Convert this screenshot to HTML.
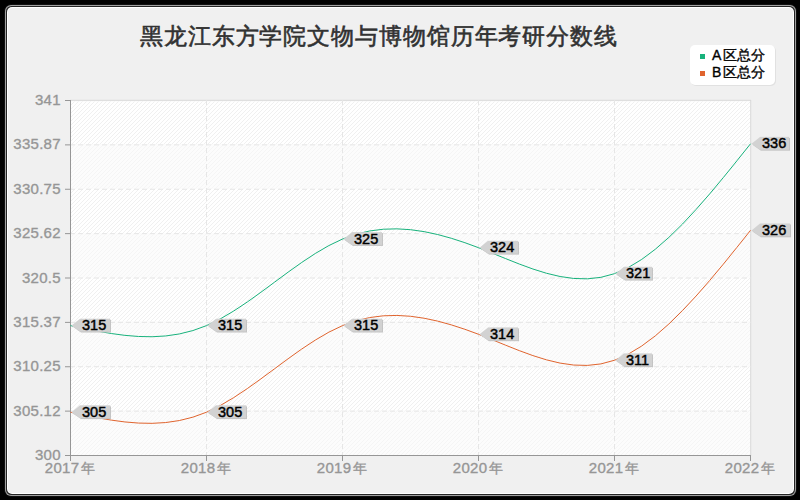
<!DOCTYPE html>
<html><head><meta charset="utf-8"><style>
html,body{margin:0;padding:0;background:#000;width:800px;height:500px;overflow:hidden;position:relative}
text{font-family:"Liberation Sans",sans-serif}
.sc{font-size:15px;fill:#969696;stroke:#969696;stroke-width:0.35px}
.lb{font-size:14.5px;fill:#000;stroke:#000;stroke-width:0.45px}
.xl{letter-spacing:0.3px}
.yl{letter-spacing:0.25px}
.lg{font-size:14px;fill:#000;stroke:#000;stroke-width:0.35px}
.tt{font-size:23px;fill:#323232;stroke:#323232;stroke-width:0.6px;letter-spacing:0.9px}
</style></head><body>
<svg width="800" height="500" viewBox="0 0 800 500" style="position:absolute;left:0;top:0">
<defs><pattern id="st" patternUnits="userSpaceOnUse" x="0" y="0" width="4" height="4"><rect x="3" y="0" width="1" height="1" fill="#f0f0f0"/><rect x="2" y="1" width="1" height="1" fill="#f0f0f0"/><rect x="1" y="2" width="1" height="1" fill="#f0f0f0"/><rect x="0" y="3" width="1" height="1" fill="#f0f0f0"/></pattern></defs>
<rect x="4.5" y="4.5" width="792" height="492" rx="7" fill="none" stroke="#0f0f0f" stroke-width="1"/>
<rect x="5" y="5" width="791" height="491" rx="6" fill="#a0a0a0"/>
<rect x="6" y="6" width="789" height="489" rx="5.5" fill="#232323"/>
<rect x="7" y="7" width="787" height="487" rx="5" fill="#ffffff"/>
<rect x="8" y="8" width="785" height="485" rx="4" fill="#f0f0f0"/>
<g shape-rendering="crispEdges"><rect x="70" y="100" width="681" height="356" fill="#fff"/><rect x="70" y="101" width="680" height="355" fill="url(#st)"/><rect x="71" y="410" width="679" height="45" fill="#fafafa" fill-opacity="0.5"/><rect x="71" y="321" width="679" height="46" fill="#fafafa" fill-opacity="0.5"/><rect x="71" y="233" width="679" height="45" fill="#fafafa" fill-opacity="0.5"/><rect x="71" y="144" width="679" height="45" fill="#fafafa" fill-opacity="0.5"/><rect x="71" y="100" width="679" height="2" fill="#fafafa" fill-opacity="0.5"/><rect x="70" y="99" width="681" height="1" fill="#d7d7d7" fill-opacity="0.2"/><rect x="70" y="100" width="681" height="1" fill="#d7d7d7" fill-opacity="0.8"/><rect x="750" y="100" width="1" height="356" fill="#d7d7d7" fill-opacity="0.8"/><rect x="751" y="100" width="1" height="356" fill="#d7d7d7" fill-opacity="0.2"/><rect x="70" y="410" width="5" height="1" fill="#e6e6e6" fill-opacity="0.375"/><rect x="70" y="411" width="5" height="1" fill="#e6e6e6" fill-opacity="0.625"/><rect x="78" y="410" width="5" height="1" fill="#e6e6e6" fill-opacity="0.375"/><rect x="78" y="411" width="5" height="1" fill="#e6e6e6" fill-opacity="0.625"/><rect x="86" y="410" width="5" height="1" fill="#e6e6e6" fill-opacity="0.375"/><rect x="86" y="411" width="5" height="1" fill="#e6e6e6" fill-opacity="0.625"/><rect x="94" y="410" width="5" height="1" fill="#e6e6e6" fill-opacity="0.375"/><rect x="94" y="411" width="5" height="1" fill="#e6e6e6" fill-opacity="0.625"/><rect x="102" y="410" width="5" height="1" fill="#e6e6e6" fill-opacity="0.375"/><rect x="102" y="411" width="5" height="1" fill="#e6e6e6" fill-opacity="0.625"/><rect x="110" y="410" width="5" height="1" fill="#e6e6e6" fill-opacity="0.375"/><rect x="110" y="411" width="5" height="1" fill="#e6e6e6" fill-opacity="0.625"/><rect x="118" y="410" width="5" height="1" fill="#e6e6e6" fill-opacity="0.375"/><rect x="118" y="411" width="5" height="1" fill="#e6e6e6" fill-opacity="0.625"/><rect x="126" y="410" width="5" height="1" fill="#e6e6e6" fill-opacity="0.375"/><rect x="126" y="411" width="5" height="1" fill="#e6e6e6" fill-opacity="0.625"/><rect x="134" y="410" width="5" height="1" fill="#e6e6e6" fill-opacity="0.375"/><rect x="134" y="411" width="5" height="1" fill="#e6e6e6" fill-opacity="0.625"/><rect x="142" y="410" width="5" height="1" fill="#e6e6e6" fill-opacity="0.375"/><rect x="142" y="411" width="5" height="1" fill="#e6e6e6" fill-opacity="0.625"/><rect x="150" y="410" width="5" height="1" fill="#e6e6e6" fill-opacity="0.375"/><rect x="150" y="411" width="5" height="1" fill="#e6e6e6" fill-opacity="0.625"/><rect x="158" y="410" width="5" height="1" fill="#e6e6e6" fill-opacity="0.375"/><rect x="158" y="411" width="5" height="1" fill="#e6e6e6" fill-opacity="0.625"/><rect x="166" y="410" width="5" height="1" fill="#e6e6e6" fill-opacity="0.375"/><rect x="166" y="411" width="5" height="1" fill="#e6e6e6" fill-opacity="0.625"/><rect x="174" y="410" width="5" height="1" fill="#e6e6e6" fill-opacity="0.375"/><rect x="174" y="411" width="5" height="1" fill="#e6e6e6" fill-opacity="0.625"/><rect x="182" y="410" width="5" height="1" fill="#e6e6e6" fill-opacity="0.375"/><rect x="182" y="411" width="5" height="1" fill="#e6e6e6" fill-opacity="0.625"/><rect x="190" y="410" width="5" height="1" fill="#e6e6e6" fill-opacity="0.375"/><rect x="190" y="411" width="5" height="1" fill="#e6e6e6" fill-opacity="0.625"/><rect x="198" y="410" width="5" height="1" fill="#e6e6e6" fill-opacity="0.375"/><rect x="198" y="411" width="5" height="1" fill="#e6e6e6" fill-opacity="0.625"/><rect x="206" y="410" width="5" height="1" fill="#e6e6e6" fill-opacity="0.375"/><rect x="206" y="411" width="5" height="1" fill="#e6e6e6" fill-opacity="0.625"/><rect x="214" y="410" width="5" height="1" fill="#e6e6e6" fill-opacity="0.375"/><rect x="214" y="411" width="5" height="1" fill="#e6e6e6" fill-opacity="0.625"/><rect x="222" y="410" width="5" height="1" fill="#e6e6e6" fill-opacity="0.375"/><rect x="222" y="411" width="5" height="1" fill="#e6e6e6" fill-opacity="0.625"/><rect x="230" y="410" width="5" height="1" fill="#e6e6e6" fill-opacity="0.375"/><rect x="230" y="411" width="5" height="1" fill="#e6e6e6" fill-opacity="0.625"/><rect x="238" y="410" width="5" height="1" fill="#e6e6e6" fill-opacity="0.375"/><rect x="238" y="411" width="5" height="1" fill="#e6e6e6" fill-opacity="0.625"/><rect x="246" y="410" width="5" height="1" fill="#e6e6e6" fill-opacity="0.375"/><rect x="246" y="411" width="5" height="1" fill="#e6e6e6" fill-opacity="0.625"/><rect x="254" y="410" width="5" height="1" fill="#e6e6e6" fill-opacity="0.375"/><rect x="254" y="411" width="5" height="1" fill="#e6e6e6" fill-opacity="0.625"/><rect x="262" y="410" width="5" height="1" fill="#e6e6e6" fill-opacity="0.375"/><rect x="262" y="411" width="5" height="1" fill="#e6e6e6" fill-opacity="0.625"/><rect x="270" y="410" width="5" height="1" fill="#e6e6e6" fill-opacity="0.375"/><rect x="270" y="411" width="5" height="1" fill="#e6e6e6" fill-opacity="0.625"/><rect x="278" y="410" width="5" height="1" fill="#e6e6e6" fill-opacity="0.375"/><rect x="278" y="411" width="5" height="1" fill="#e6e6e6" fill-opacity="0.625"/><rect x="286" y="410" width="5" height="1" fill="#e6e6e6" fill-opacity="0.375"/><rect x="286" y="411" width="5" height="1" fill="#e6e6e6" fill-opacity="0.625"/><rect x="294" y="410" width="5" height="1" fill="#e6e6e6" fill-opacity="0.375"/><rect x="294" y="411" width="5" height="1" fill="#e6e6e6" fill-opacity="0.625"/><rect x="302" y="410" width="5" height="1" fill="#e6e6e6" fill-opacity="0.375"/><rect x="302" y="411" width="5" height="1" fill="#e6e6e6" fill-opacity="0.625"/><rect x="310" y="410" width="5" height="1" fill="#e6e6e6" fill-opacity="0.375"/><rect x="310" y="411" width="5" height="1" fill="#e6e6e6" fill-opacity="0.625"/><rect x="318" y="410" width="5" height="1" fill="#e6e6e6" fill-opacity="0.375"/><rect x="318" y="411" width="5" height="1" fill="#e6e6e6" fill-opacity="0.625"/><rect x="326" y="410" width="5" height="1" fill="#e6e6e6" fill-opacity="0.375"/><rect x="326" y="411" width="5" height="1" fill="#e6e6e6" fill-opacity="0.625"/><rect x="334" y="410" width="5" height="1" fill="#e6e6e6" fill-opacity="0.375"/><rect x="334" y="411" width="5" height="1" fill="#e6e6e6" fill-opacity="0.625"/><rect x="342" y="410" width="5" height="1" fill="#e6e6e6" fill-opacity="0.375"/><rect x="342" y="411" width="5" height="1" fill="#e6e6e6" fill-opacity="0.625"/><rect x="350" y="410" width="5" height="1" fill="#e6e6e6" fill-opacity="0.375"/><rect x="350" y="411" width="5" height="1" fill="#e6e6e6" fill-opacity="0.625"/><rect x="358" y="410" width="5" height="1" fill="#e6e6e6" fill-opacity="0.375"/><rect x="358" y="411" width="5" height="1" fill="#e6e6e6" fill-opacity="0.625"/><rect x="366" y="410" width="5" height="1" fill="#e6e6e6" fill-opacity="0.375"/><rect x="366" y="411" width="5" height="1" fill="#e6e6e6" fill-opacity="0.625"/><rect x="374" y="410" width="5" height="1" fill="#e6e6e6" fill-opacity="0.375"/><rect x="374" y="411" width="5" height="1" fill="#e6e6e6" fill-opacity="0.625"/><rect x="382" y="410" width="5" height="1" fill="#e6e6e6" fill-opacity="0.375"/><rect x="382" y="411" width="5" height="1" fill="#e6e6e6" fill-opacity="0.625"/><rect x="390" y="410" width="5" height="1" fill="#e6e6e6" fill-opacity="0.375"/><rect x="390" y="411" width="5" height="1" fill="#e6e6e6" fill-opacity="0.625"/><rect x="398" y="410" width="5" height="1" fill="#e6e6e6" fill-opacity="0.375"/><rect x="398" y="411" width="5" height="1" fill="#e6e6e6" fill-opacity="0.625"/><rect x="406" y="410" width="5" height="1" fill="#e6e6e6" fill-opacity="0.375"/><rect x="406" y="411" width="5" height="1" fill="#e6e6e6" fill-opacity="0.625"/><rect x="414" y="410" width="5" height="1" fill="#e6e6e6" fill-opacity="0.375"/><rect x="414" y="411" width="5" height="1" fill="#e6e6e6" fill-opacity="0.625"/><rect x="422" y="410" width="5" height="1" fill="#e6e6e6" fill-opacity="0.375"/><rect x="422" y="411" width="5" height="1" fill="#e6e6e6" fill-opacity="0.625"/><rect x="430" y="410" width="5" height="1" fill="#e6e6e6" fill-opacity="0.375"/><rect x="430" y="411" width="5" height="1" fill="#e6e6e6" fill-opacity="0.625"/><rect x="438" y="410" width="5" height="1" fill="#e6e6e6" fill-opacity="0.375"/><rect x="438" y="411" width="5" height="1" fill="#e6e6e6" fill-opacity="0.625"/><rect x="446" y="410" width="5" height="1" fill="#e6e6e6" fill-opacity="0.375"/><rect x="446" y="411" width="5" height="1" fill="#e6e6e6" fill-opacity="0.625"/><rect x="454" y="410" width="5" height="1" fill="#e6e6e6" fill-opacity="0.375"/><rect x="454" y="411" width="5" height="1" fill="#e6e6e6" fill-opacity="0.625"/><rect x="462" y="410" width="5" height="1" fill="#e6e6e6" fill-opacity="0.375"/><rect x="462" y="411" width="5" height="1" fill="#e6e6e6" fill-opacity="0.625"/><rect x="470" y="410" width="5" height="1" fill="#e6e6e6" fill-opacity="0.375"/><rect x="470" y="411" width="5" height="1" fill="#e6e6e6" fill-opacity="0.625"/><rect x="478" y="410" width="5" height="1" fill="#e6e6e6" fill-opacity="0.375"/><rect x="478" y="411" width="5" height="1" fill="#e6e6e6" fill-opacity="0.625"/><rect x="486" y="410" width="5" height="1" fill="#e6e6e6" fill-opacity="0.375"/><rect x="486" y="411" width="5" height="1" fill="#e6e6e6" fill-opacity="0.625"/><rect x="494" y="410" width="5" height="1" fill="#e6e6e6" fill-opacity="0.375"/><rect x="494" y="411" width="5" height="1" fill="#e6e6e6" fill-opacity="0.625"/><rect x="502" y="410" width="5" height="1" fill="#e6e6e6" fill-opacity="0.375"/><rect x="502" y="411" width="5" height="1" fill="#e6e6e6" fill-opacity="0.625"/><rect x="510" y="410" width="5" height="1" fill="#e6e6e6" fill-opacity="0.375"/><rect x="510" y="411" width="5" height="1" fill="#e6e6e6" fill-opacity="0.625"/><rect x="518" y="410" width="5" height="1" fill="#e6e6e6" fill-opacity="0.375"/><rect x="518" y="411" width="5" height="1" fill="#e6e6e6" fill-opacity="0.625"/><rect x="526" y="410" width="5" height="1" fill="#e6e6e6" fill-opacity="0.375"/><rect x="526" y="411" width="5" height="1" fill="#e6e6e6" fill-opacity="0.625"/><rect x="534" y="410" width="5" height="1" fill="#e6e6e6" fill-opacity="0.375"/><rect x="534" y="411" width="5" height="1" fill="#e6e6e6" fill-opacity="0.625"/><rect x="542" y="410" width="5" height="1" fill="#e6e6e6" fill-opacity="0.375"/><rect x="542" y="411" width="5" height="1" fill="#e6e6e6" fill-opacity="0.625"/><rect x="550" y="410" width="5" height="1" fill="#e6e6e6" fill-opacity="0.375"/><rect x="550" y="411" width="5" height="1" fill="#e6e6e6" fill-opacity="0.625"/><rect x="558" y="410" width="5" height="1" fill="#e6e6e6" fill-opacity="0.375"/><rect x="558" y="411" width="5" height="1" fill="#e6e6e6" fill-opacity="0.625"/><rect x="566" y="410" width="5" height="1" fill="#e6e6e6" fill-opacity="0.375"/><rect x="566" y="411" width="5" height="1" fill="#e6e6e6" fill-opacity="0.625"/><rect x="574" y="410" width="5" height="1" fill="#e6e6e6" fill-opacity="0.375"/><rect x="574" y="411" width="5" height="1" fill="#e6e6e6" fill-opacity="0.625"/><rect x="582" y="410" width="5" height="1" fill="#e6e6e6" fill-opacity="0.375"/><rect x="582" y="411" width="5" height="1" fill="#e6e6e6" fill-opacity="0.625"/><rect x="590" y="410" width="5" height="1" fill="#e6e6e6" fill-opacity="0.375"/><rect x="590" y="411" width="5" height="1" fill="#e6e6e6" fill-opacity="0.625"/><rect x="598" y="410" width="5" height="1" fill="#e6e6e6" fill-opacity="0.375"/><rect x="598" y="411" width="5" height="1" fill="#e6e6e6" fill-opacity="0.625"/><rect x="606" y="410" width="5" height="1" fill="#e6e6e6" fill-opacity="0.375"/><rect x="606" y="411" width="5" height="1" fill="#e6e6e6" fill-opacity="0.625"/><rect x="614" y="410" width="5" height="1" fill="#e6e6e6" fill-opacity="0.375"/><rect x="614" y="411" width="5" height="1" fill="#e6e6e6" fill-opacity="0.625"/><rect x="622" y="410" width="5" height="1" fill="#e6e6e6" fill-opacity="0.375"/><rect x="622" y="411" width="5" height="1" fill="#e6e6e6" fill-opacity="0.625"/><rect x="630" y="410" width="5" height="1" fill="#e6e6e6" fill-opacity="0.375"/><rect x="630" y="411" width="5" height="1" fill="#e6e6e6" fill-opacity="0.625"/><rect x="638" y="410" width="5" height="1" fill="#e6e6e6" fill-opacity="0.375"/><rect x="638" y="411" width="5" height="1" fill="#e6e6e6" fill-opacity="0.625"/><rect x="646" y="410" width="5" height="1" fill="#e6e6e6" fill-opacity="0.375"/><rect x="646" y="411" width="5" height="1" fill="#e6e6e6" fill-opacity="0.625"/><rect x="654" y="410" width="5" height="1" fill="#e6e6e6" fill-opacity="0.375"/><rect x="654" y="411" width="5" height="1" fill="#e6e6e6" fill-opacity="0.625"/><rect x="662" y="410" width="5" height="1" fill="#e6e6e6" fill-opacity="0.375"/><rect x="662" y="411" width="5" height="1" fill="#e6e6e6" fill-opacity="0.625"/><rect x="670" y="410" width="5" height="1" fill="#e6e6e6" fill-opacity="0.375"/><rect x="670" y="411" width="5" height="1" fill="#e6e6e6" fill-opacity="0.625"/><rect x="678" y="410" width="5" height="1" fill="#e6e6e6" fill-opacity="0.375"/><rect x="678" y="411" width="5" height="1" fill="#e6e6e6" fill-opacity="0.625"/><rect x="686" y="410" width="5" height="1" fill="#e6e6e6" fill-opacity="0.375"/><rect x="686" y="411" width="5" height="1" fill="#e6e6e6" fill-opacity="0.625"/><rect x="694" y="410" width="5" height="1" fill="#e6e6e6" fill-opacity="0.375"/><rect x="694" y="411" width="5" height="1" fill="#e6e6e6" fill-opacity="0.625"/><rect x="702" y="410" width="5" height="1" fill="#e6e6e6" fill-opacity="0.375"/><rect x="702" y="411" width="5" height="1" fill="#e6e6e6" fill-opacity="0.625"/><rect x="710" y="410" width="5" height="1" fill="#e6e6e6" fill-opacity="0.375"/><rect x="710" y="411" width="5" height="1" fill="#e6e6e6" fill-opacity="0.625"/><rect x="718" y="410" width="5" height="1" fill="#e6e6e6" fill-opacity="0.375"/><rect x="718" y="411" width="5" height="1" fill="#e6e6e6" fill-opacity="0.625"/><rect x="726" y="410" width="5" height="1" fill="#e6e6e6" fill-opacity="0.375"/><rect x="726" y="411" width="5" height="1" fill="#e6e6e6" fill-opacity="0.625"/><rect x="734" y="410" width="5" height="1" fill="#e6e6e6" fill-opacity="0.375"/><rect x="734" y="411" width="5" height="1" fill="#e6e6e6" fill-opacity="0.625"/><rect x="742" y="410" width="5" height="1" fill="#e6e6e6" fill-opacity="0.375"/><rect x="742" y="411" width="5" height="1" fill="#e6e6e6" fill-opacity="0.625"/><rect x="750" y="410" width="1" height="1" fill="#e6e6e6" fill-opacity="0.375"/><rect x="750" y="411" width="1" height="1" fill="#e6e6e6" fill-opacity="0.625"/><rect x="70" y="366" width="5" height="1" fill="#e6e6e6" fill-opacity="0.750"/><rect x="70" y="367" width="5" height="1" fill="#e6e6e6" fill-opacity="0.250"/><rect x="78" y="366" width="5" height="1" fill="#e6e6e6" fill-opacity="0.750"/><rect x="78" y="367" width="5" height="1" fill="#e6e6e6" fill-opacity="0.250"/><rect x="86" y="366" width="5" height="1" fill="#e6e6e6" fill-opacity="0.750"/><rect x="86" y="367" width="5" height="1" fill="#e6e6e6" fill-opacity="0.250"/><rect x="94" y="366" width="5" height="1" fill="#e6e6e6" fill-opacity="0.750"/><rect x="94" y="367" width="5" height="1" fill="#e6e6e6" fill-opacity="0.250"/><rect x="102" y="366" width="5" height="1" fill="#e6e6e6" fill-opacity="0.750"/><rect x="102" y="367" width="5" height="1" fill="#e6e6e6" fill-opacity="0.250"/><rect x="110" y="366" width="5" height="1" fill="#e6e6e6" fill-opacity="0.750"/><rect x="110" y="367" width="5" height="1" fill="#e6e6e6" fill-opacity="0.250"/><rect x="118" y="366" width="5" height="1" fill="#e6e6e6" fill-opacity="0.750"/><rect x="118" y="367" width="5" height="1" fill="#e6e6e6" fill-opacity="0.250"/><rect x="126" y="366" width="5" height="1" fill="#e6e6e6" fill-opacity="0.750"/><rect x="126" y="367" width="5" height="1" fill="#e6e6e6" fill-opacity="0.250"/><rect x="134" y="366" width="5" height="1" fill="#e6e6e6" fill-opacity="0.750"/><rect x="134" y="367" width="5" height="1" fill="#e6e6e6" fill-opacity="0.250"/><rect x="142" y="366" width="5" height="1" fill="#e6e6e6" fill-opacity="0.750"/><rect x="142" y="367" width="5" height="1" fill="#e6e6e6" fill-opacity="0.250"/><rect x="150" y="366" width="5" height="1" fill="#e6e6e6" fill-opacity="0.750"/><rect x="150" y="367" width="5" height="1" fill="#e6e6e6" fill-opacity="0.250"/><rect x="158" y="366" width="5" height="1" fill="#e6e6e6" fill-opacity="0.750"/><rect x="158" y="367" width="5" height="1" fill="#e6e6e6" fill-opacity="0.250"/><rect x="166" y="366" width="5" height="1" fill="#e6e6e6" fill-opacity="0.750"/><rect x="166" y="367" width="5" height="1" fill="#e6e6e6" fill-opacity="0.250"/><rect x="174" y="366" width="5" height="1" fill="#e6e6e6" fill-opacity="0.750"/><rect x="174" y="367" width="5" height="1" fill="#e6e6e6" fill-opacity="0.250"/><rect x="182" y="366" width="5" height="1" fill="#e6e6e6" fill-opacity="0.750"/><rect x="182" y="367" width="5" height="1" fill="#e6e6e6" fill-opacity="0.250"/><rect x="190" y="366" width="5" height="1" fill="#e6e6e6" fill-opacity="0.750"/><rect x="190" y="367" width="5" height="1" fill="#e6e6e6" fill-opacity="0.250"/><rect x="198" y="366" width="5" height="1" fill="#e6e6e6" fill-opacity="0.750"/><rect x="198" y="367" width="5" height="1" fill="#e6e6e6" fill-opacity="0.250"/><rect x="206" y="366" width="5" height="1" fill="#e6e6e6" fill-opacity="0.750"/><rect x="206" y="367" width="5" height="1" fill="#e6e6e6" fill-opacity="0.250"/><rect x="214" y="366" width="5" height="1" fill="#e6e6e6" fill-opacity="0.750"/><rect x="214" y="367" width="5" height="1" fill="#e6e6e6" fill-opacity="0.250"/><rect x="222" y="366" width="5" height="1" fill="#e6e6e6" fill-opacity="0.750"/><rect x="222" y="367" width="5" height="1" fill="#e6e6e6" fill-opacity="0.250"/><rect x="230" y="366" width="5" height="1" fill="#e6e6e6" fill-opacity="0.750"/><rect x="230" y="367" width="5" height="1" fill="#e6e6e6" fill-opacity="0.250"/><rect x="238" y="366" width="5" height="1" fill="#e6e6e6" fill-opacity="0.750"/><rect x="238" y="367" width="5" height="1" fill="#e6e6e6" fill-opacity="0.250"/><rect x="246" y="366" width="5" height="1" fill="#e6e6e6" fill-opacity="0.750"/><rect x="246" y="367" width="5" height="1" fill="#e6e6e6" fill-opacity="0.250"/><rect x="254" y="366" width="5" height="1" fill="#e6e6e6" fill-opacity="0.750"/><rect x="254" y="367" width="5" height="1" fill="#e6e6e6" fill-opacity="0.250"/><rect x="262" y="366" width="5" height="1" fill="#e6e6e6" fill-opacity="0.750"/><rect x="262" y="367" width="5" height="1" fill="#e6e6e6" fill-opacity="0.250"/><rect x="270" y="366" width="5" height="1" fill="#e6e6e6" fill-opacity="0.750"/><rect x="270" y="367" width="5" height="1" fill="#e6e6e6" fill-opacity="0.250"/><rect x="278" y="366" width="5" height="1" fill="#e6e6e6" fill-opacity="0.750"/><rect x="278" y="367" width="5" height="1" fill="#e6e6e6" fill-opacity="0.250"/><rect x="286" y="366" width="5" height="1" fill="#e6e6e6" fill-opacity="0.750"/><rect x="286" y="367" width="5" height="1" fill="#e6e6e6" fill-opacity="0.250"/><rect x="294" y="366" width="5" height="1" fill="#e6e6e6" fill-opacity="0.750"/><rect x="294" y="367" width="5" height="1" fill="#e6e6e6" fill-opacity="0.250"/><rect x="302" y="366" width="5" height="1" fill="#e6e6e6" fill-opacity="0.750"/><rect x="302" y="367" width="5" height="1" fill="#e6e6e6" fill-opacity="0.250"/><rect x="310" y="366" width="5" height="1" fill="#e6e6e6" fill-opacity="0.750"/><rect x="310" y="367" width="5" height="1" fill="#e6e6e6" fill-opacity="0.250"/><rect x="318" y="366" width="5" height="1" fill="#e6e6e6" fill-opacity="0.750"/><rect x="318" y="367" width="5" height="1" fill="#e6e6e6" fill-opacity="0.250"/><rect x="326" y="366" width="5" height="1" fill="#e6e6e6" fill-opacity="0.750"/><rect x="326" y="367" width="5" height="1" fill="#e6e6e6" fill-opacity="0.250"/><rect x="334" y="366" width="5" height="1" fill="#e6e6e6" fill-opacity="0.750"/><rect x="334" y="367" width="5" height="1" fill="#e6e6e6" fill-opacity="0.250"/><rect x="342" y="366" width="5" height="1" fill="#e6e6e6" fill-opacity="0.750"/><rect x="342" y="367" width="5" height="1" fill="#e6e6e6" fill-opacity="0.250"/><rect x="350" y="366" width="5" height="1" fill="#e6e6e6" fill-opacity="0.750"/><rect x="350" y="367" width="5" height="1" fill="#e6e6e6" fill-opacity="0.250"/><rect x="358" y="366" width="5" height="1" fill="#e6e6e6" fill-opacity="0.750"/><rect x="358" y="367" width="5" height="1" fill="#e6e6e6" fill-opacity="0.250"/><rect x="366" y="366" width="5" height="1" fill="#e6e6e6" fill-opacity="0.750"/><rect x="366" y="367" width="5" height="1" fill="#e6e6e6" fill-opacity="0.250"/><rect x="374" y="366" width="5" height="1" fill="#e6e6e6" fill-opacity="0.750"/><rect x="374" y="367" width="5" height="1" fill="#e6e6e6" fill-opacity="0.250"/><rect x="382" y="366" width="5" height="1" fill="#e6e6e6" fill-opacity="0.750"/><rect x="382" y="367" width="5" height="1" fill="#e6e6e6" fill-opacity="0.250"/><rect x="390" y="366" width="5" height="1" fill="#e6e6e6" fill-opacity="0.750"/><rect x="390" y="367" width="5" height="1" fill="#e6e6e6" fill-opacity="0.250"/><rect x="398" y="366" width="5" height="1" fill="#e6e6e6" fill-opacity="0.750"/><rect x="398" y="367" width="5" height="1" fill="#e6e6e6" fill-opacity="0.250"/><rect x="406" y="366" width="5" height="1" fill="#e6e6e6" fill-opacity="0.750"/><rect x="406" y="367" width="5" height="1" fill="#e6e6e6" fill-opacity="0.250"/><rect x="414" y="366" width="5" height="1" fill="#e6e6e6" fill-opacity="0.750"/><rect x="414" y="367" width="5" height="1" fill="#e6e6e6" fill-opacity="0.250"/><rect x="422" y="366" width="5" height="1" fill="#e6e6e6" fill-opacity="0.750"/><rect x="422" y="367" width="5" height="1" fill="#e6e6e6" fill-opacity="0.250"/><rect x="430" y="366" width="5" height="1" fill="#e6e6e6" fill-opacity="0.750"/><rect x="430" y="367" width="5" height="1" fill="#e6e6e6" fill-opacity="0.250"/><rect x="438" y="366" width="5" height="1" fill="#e6e6e6" fill-opacity="0.750"/><rect x="438" y="367" width="5" height="1" fill="#e6e6e6" fill-opacity="0.250"/><rect x="446" y="366" width="5" height="1" fill="#e6e6e6" fill-opacity="0.750"/><rect x="446" y="367" width="5" height="1" fill="#e6e6e6" fill-opacity="0.250"/><rect x="454" y="366" width="5" height="1" fill="#e6e6e6" fill-opacity="0.750"/><rect x="454" y="367" width="5" height="1" fill="#e6e6e6" fill-opacity="0.250"/><rect x="462" y="366" width="5" height="1" fill="#e6e6e6" fill-opacity="0.750"/><rect x="462" y="367" width="5" height="1" fill="#e6e6e6" fill-opacity="0.250"/><rect x="470" y="366" width="5" height="1" fill="#e6e6e6" fill-opacity="0.750"/><rect x="470" y="367" width="5" height="1" fill="#e6e6e6" fill-opacity="0.250"/><rect x="478" y="366" width="5" height="1" fill="#e6e6e6" fill-opacity="0.750"/><rect x="478" y="367" width="5" height="1" fill="#e6e6e6" fill-opacity="0.250"/><rect x="486" y="366" width="5" height="1" fill="#e6e6e6" fill-opacity="0.750"/><rect x="486" y="367" width="5" height="1" fill="#e6e6e6" fill-opacity="0.250"/><rect x="494" y="366" width="5" height="1" fill="#e6e6e6" fill-opacity="0.750"/><rect x="494" y="367" width="5" height="1" fill="#e6e6e6" fill-opacity="0.250"/><rect x="502" y="366" width="5" height="1" fill="#e6e6e6" fill-opacity="0.750"/><rect x="502" y="367" width="5" height="1" fill="#e6e6e6" fill-opacity="0.250"/><rect x="510" y="366" width="5" height="1" fill="#e6e6e6" fill-opacity="0.750"/><rect x="510" y="367" width="5" height="1" fill="#e6e6e6" fill-opacity="0.250"/><rect x="518" y="366" width="5" height="1" fill="#e6e6e6" fill-opacity="0.750"/><rect x="518" y="367" width="5" height="1" fill="#e6e6e6" fill-opacity="0.250"/><rect x="526" y="366" width="5" height="1" fill="#e6e6e6" fill-opacity="0.750"/><rect x="526" y="367" width="5" height="1" fill="#e6e6e6" fill-opacity="0.250"/><rect x="534" y="366" width="5" height="1" fill="#e6e6e6" fill-opacity="0.750"/><rect x="534" y="367" width="5" height="1" fill="#e6e6e6" fill-opacity="0.250"/><rect x="542" y="366" width="5" height="1" fill="#e6e6e6" fill-opacity="0.750"/><rect x="542" y="367" width="5" height="1" fill="#e6e6e6" fill-opacity="0.250"/><rect x="550" y="366" width="5" height="1" fill="#e6e6e6" fill-opacity="0.750"/><rect x="550" y="367" width="5" height="1" fill="#e6e6e6" fill-opacity="0.250"/><rect x="558" y="366" width="5" height="1" fill="#e6e6e6" fill-opacity="0.750"/><rect x="558" y="367" width="5" height="1" fill="#e6e6e6" fill-opacity="0.250"/><rect x="566" y="366" width="5" height="1" fill="#e6e6e6" fill-opacity="0.750"/><rect x="566" y="367" width="5" height="1" fill="#e6e6e6" fill-opacity="0.250"/><rect x="574" y="366" width="5" height="1" fill="#e6e6e6" fill-opacity="0.750"/><rect x="574" y="367" width="5" height="1" fill="#e6e6e6" fill-opacity="0.250"/><rect x="582" y="366" width="5" height="1" fill="#e6e6e6" fill-opacity="0.750"/><rect x="582" y="367" width="5" height="1" fill="#e6e6e6" fill-opacity="0.250"/><rect x="590" y="366" width="5" height="1" fill="#e6e6e6" fill-opacity="0.750"/><rect x="590" y="367" width="5" height="1" fill="#e6e6e6" fill-opacity="0.250"/><rect x="598" y="366" width="5" height="1" fill="#e6e6e6" fill-opacity="0.750"/><rect x="598" y="367" width="5" height="1" fill="#e6e6e6" fill-opacity="0.250"/><rect x="606" y="366" width="5" height="1" fill="#e6e6e6" fill-opacity="0.750"/><rect x="606" y="367" width="5" height="1" fill="#e6e6e6" fill-opacity="0.250"/><rect x="614" y="366" width="5" height="1" fill="#e6e6e6" fill-opacity="0.750"/><rect x="614" y="367" width="5" height="1" fill="#e6e6e6" fill-opacity="0.250"/><rect x="622" y="366" width="5" height="1" fill="#e6e6e6" fill-opacity="0.750"/><rect x="622" y="367" width="5" height="1" fill="#e6e6e6" fill-opacity="0.250"/><rect x="630" y="366" width="5" height="1" fill="#e6e6e6" fill-opacity="0.750"/><rect x="630" y="367" width="5" height="1" fill="#e6e6e6" fill-opacity="0.250"/><rect x="638" y="366" width="5" height="1" fill="#e6e6e6" fill-opacity="0.750"/><rect x="638" y="367" width="5" height="1" fill="#e6e6e6" fill-opacity="0.250"/><rect x="646" y="366" width="5" height="1" fill="#e6e6e6" fill-opacity="0.750"/><rect x="646" y="367" width="5" height="1" fill="#e6e6e6" fill-opacity="0.250"/><rect x="654" y="366" width="5" height="1" fill="#e6e6e6" fill-opacity="0.750"/><rect x="654" y="367" width="5" height="1" fill="#e6e6e6" fill-opacity="0.250"/><rect x="662" y="366" width="5" height="1" fill="#e6e6e6" fill-opacity="0.750"/><rect x="662" y="367" width="5" height="1" fill="#e6e6e6" fill-opacity="0.250"/><rect x="670" y="366" width="5" height="1" fill="#e6e6e6" fill-opacity="0.750"/><rect x="670" y="367" width="5" height="1" fill="#e6e6e6" fill-opacity="0.250"/><rect x="678" y="366" width="5" height="1" fill="#e6e6e6" fill-opacity="0.750"/><rect x="678" y="367" width="5" height="1" fill="#e6e6e6" fill-opacity="0.250"/><rect x="686" y="366" width="5" height="1" fill="#e6e6e6" fill-opacity="0.750"/><rect x="686" y="367" width="5" height="1" fill="#e6e6e6" fill-opacity="0.250"/><rect x="694" y="366" width="5" height="1" fill="#e6e6e6" fill-opacity="0.750"/><rect x="694" y="367" width="5" height="1" fill="#e6e6e6" fill-opacity="0.250"/><rect x="702" y="366" width="5" height="1" fill="#e6e6e6" fill-opacity="0.750"/><rect x="702" y="367" width="5" height="1" fill="#e6e6e6" fill-opacity="0.250"/><rect x="710" y="366" width="5" height="1" fill="#e6e6e6" fill-opacity="0.750"/><rect x="710" y="367" width="5" height="1" fill="#e6e6e6" fill-opacity="0.250"/><rect x="718" y="366" width="5" height="1" fill="#e6e6e6" fill-opacity="0.750"/><rect x="718" y="367" width="5" height="1" fill="#e6e6e6" fill-opacity="0.250"/><rect x="726" y="366" width="5" height="1" fill="#e6e6e6" fill-opacity="0.750"/><rect x="726" y="367" width="5" height="1" fill="#e6e6e6" fill-opacity="0.250"/><rect x="734" y="366" width="5" height="1" fill="#e6e6e6" fill-opacity="0.750"/><rect x="734" y="367" width="5" height="1" fill="#e6e6e6" fill-opacity="0.250"/><rect x="742" y="366" width="5" height="1" fill="#e6e6e6" fill-opacity="0.750"/><rect x="742" y="367" width="5" height="1" fill="#e6e6e6" fill-opacity="0.250"/><rect x="750" y="366" width="1" height="1" fill="#e6e6e6" fill-opacity="0.750"/><rect x="750" y="367" width="1" height="1" fill="#e6e6e6" fill-opacity="0.250"/><rect x="70" y="321" width="5" height="1" fill="#e6e6e6" fill-opacity="0.125"/><rect x="70" y="322" width="5" height="1" fill="#e6e6e6" fill-opacity="0.875"/><rect x="78" y="321" width="5" height="1" fill="#e6e6e6" fill-opacity="0.125"/><rect x="78" y="322" width="5" height="1" fill="#e6e6e6" fill-opacity="0.875"/><rect x="86" y="321" width="5" height="1" fill="#e6e6e6" fill-opacity="0.125"/><rect x="86" y="322" width="5" height="1" fill="#e6e6e6" fill-opacity="0.875"/><rect x="94" y="321" width="5" height="1" fill="#e6e6e6" fill-opacity="0.125"/><rect x="94" y="322" width="5" height="1" fill="#e6e6e6" fill-opacity="0.875"/><rect x="102" y="321" width="5" height="1" fill="#e6e6e6" fill-opacity="0.125"/><rect x="102" y="322" width="5" height="1" fill="#e6e6e6" fill-opacity="0.875"/><rect x="110" y="321" width="5" height="1" fill="#e6e6e6" fill-opacity="0.125"/><rect x="110" y="322" width="5" height="1" fill="#e6e6e6" fill-opacity="0.875"/><rect x="118" y="321" width="5" height="1" fill="#e6e6e6" fill-opacity="0.125"/><rect x="118" y="322" width="5" height="1" fill="#e6e6e6" fill-opacity="0.875"/><rect x="126" y="321" width="5" height="1" fill="#e6e6e6" fill-opacity="0.125"/><rect x="126" y="322" width="5" height="1" fill="#e6e6e6" fill-opacity="0.875"/><rect x="134" y="321" width="5" height="1" fill="#e6e6e6" fill-opacity="0.125"/><rect x="134" y="322" width="5" height="1" fill="#e6e6e6" fill-opacity="0.875"/><rect x="142" y="321" width="5" height="1" fill="#e6e6e6" fill-opacity="0.125"/><rect x="142" y="322" width="5" height="1" fill="#e6e6e6" fill-opacity="0.875"/><rect x="150" y="321" width="5" height="1" fill="#e6e6e6" fill-opacity="0.125"/><rect x="150" y="322" width="5" height="1" fill="#e6e6e6" fill-opacity="0.875"/><rect x="158" y="321" width="5" height="1" fill="#e6e6e6" fill-opacity="0.125"/><rect x="158" y="322" width="5" height="1" fill="#e6e6e6" fill-opacity="0.875"/><rect x="166" y="321" width="5" height="1" fill="#e6e6e6" fill-opacity="0.125"/><rect x="166" y="322" width="5" height="1" fill="#e6e6e6" fill-opacity="0.875"/><rect x="174" y="321" width="5" height="1" fill="#e6e6e6" fill-opacity="0.125"/><rect x="174" y="322" width="5" height="1" fill="#e6e6e6" fill-opacity="0.875"/><rect x="182" y="321" width="5" height="1" fill="#e6e6e6" fill-opacity="0.125"/><rect x="182" y="322" width="5" height="1" fill="#e6e6e6" fill-opacity="0.875"/><rect x="190" y="321" width="5" height="1" fill="#e6e6e6" fill-opacity="0.125"/><rect x="190" y="322" width="5" height="1" fill="#e6e6e6" fill-opacity="0.875"/><rect x="198" y="321" width="5" height="1" fill="#e6e6e6" fill-opacity="0.125"/><rect x="198" y="322" width="5" height="1" fill="#e6e6e6" fill-opacity="0.875"/><rect x="206" y="321" width="5" height="1" fill="#e6e6e6" fill-opacity="0.125"/><rect x="206" y="322" width="5" height="1" fill="#e6e6e6" fill-opacity="0.875"/><rect x="214" y="321" width="5" height="1" fill="#e6e6e6" fill-opacity="0.125"/><rect x="214" y="322" width="5" height="1" fill="#e6e6e6" fill-opacity="0.875"/><rect x="222" y="321" width="5" height="1" fill="#e6e6e6" fill-opacity="0.125"/><rect x="222" y="322" width="5" height="1" fill="#e6e6e6" fill-opacity="0.875"/><rect x="230" y="321" width="5" height="1" fill="#e6e6e6" fill-opacity="0.125"/><rect x="230" y="322" width="5" height="1" fill="#e6e6e6" fill-opacity="0.875"/><rect x="238" y="321" width="5" height="1" fill="#e6e6e6" fill-opacity="0.125"/><rect x="238" y="322" width="5" height="1" fill="#e6e6e6" fill-opacity="0.875"/><rect x="246" y="321" width="5" height="1" fill="#e6e6e6" fill-opacity="0.125"/><rect x="246" y="322" width="5" height="1" fill="#e6e6e6" fill-opacity="0.875"/><rect x="254" y="321" width="5" height="1" fill="#e6e6e6" fill-opacity="0.125"/><rect x="254" y="322" width="5" height="1" fill="#e6e6e6" fill-opacity="0.875"/><rect x="262" y="321" width="5" height="1" fill="#e6e6e6" fill-opacity="0.125"/><rect x="262" y="322" width="5" height="1" fill="#e6e6e6" fill-opacity="0.875"/><rect x="270" y="321" width="5" height="1" fill="#e6e6e6" fill-opacity="0.125"/><rect x="270" y="322" width="5" height="1" fill="#e6e6e6" fill-opacity="0.875"/><rect x="278" y="321" width="5" height="1" fill="#e6e6e6" fill-opacity="0.125"/><rect x="278" y="322" width="5" height="1" fill="#e6e6e6" fill-opacity="0.875"/><rect x="286" y="321" width="5" height="1" fill="#e6e6e6" fill-opacity="0.125"/><rect x="286" y="322" width="5" height="1" fill="#e6e6e6" fill-opacity="0.875"/><rect x="294" y="321" width="5" height="1" fill="#e6e6e6" fill-opacity="0.125"/><rect x="294" y="322" width="5" height="1" fill="#e6e6e6" fill-opacity="0.875"/><rect x="302" y="321" width="5" height="1" fill="#e6e6e6" fill-opacity="0.125"/><rect x="302" y="322" width="5" height="1" fill="#e6e6e6" fill-opacity="0.875"/><rect x="310" y="321" width="5" height="1" fill="#e6e6e6" fill-opacity="0.125"/><rect x="310" y="322" width="5" height="1" fill="#e6e6e6" fill-opacity="0.875"/><rect x="318" y="321" width="5" height="1" fill="#e6e6e6" fill-opacity="0.125"/><rect x="318" y="322" width="5" height="1" fill="#e6e6e6" fill-opacity="0.875"/><rect x="326" y="321" width="5" height="1" fill="#e6e6e6" fill-opacity="0.125"/><rect x="326" y="322" width="5" height="1" fill="#e6e6e6" fill-opacity="0.875"/><rect x="334" y="321" width="5" height="1" fill="#e6e6e6" fill-opacity="0.125"/><rect x="334" y="322" width="5" height="1" fill="#e6e6e6" fill-opacity="0.875"/><rect x="342" y="321" width="5" height="1" fill="#e6e6e6" fill-opacity="0.125"/><rect x="342" y="322" width="5" height="1" fill="#e6e6e6" fill-opacity="0.875"/><rect x="350" y="321" width="5" height="1" fill="#e6e6e6" fill-opacity="0.125"/><rect x="350" y="322" width="5" height="1" fill="#e6e6e6" fill-opacity="0.875"/><rect x="358" y="321" width="5" height="1" fill="#e6e6e6" fill-opacity="0.125"/><rect x="358" y="322" width="5" height="1" fill="#e6e6e6" fill-opacity="0.875"/><rect x="366" y="321" width="5" height="1" fill="#e6e6e6" fill-opacity="0.125"/><rect x="366" y="322" width="5" height="1" fill="#e6e6e6" fill-opacity="0.875"/><rect x="374" y="321" width="5" height="1" fill="#e6e6e6" fill-opacity="0.125"/><rect x="374" y="322" width="5" height="1" fill="#e6e6e6" fill-opacity="0.875"/><rect x="382" y="321" width="5" height="1" fill="#e6e6e6" fill-opacity="0.125"/><rect x="382" y="322" width="5" height="1" fill="#e6e6e6" fill-opacity="0.875"/><rect x="390" y="321" width="5" height="1" fill="#e6e6e6" fill-opacity="0.125"/><rect x="390" y="322" width="5" height="1" fill="#e6e6e6" fill-opacity="0.875"/><rect x="398" y="321" width="5" height="1" fill="#e6e6e6" fill-opacity="0.125"/><rect x="398" y="322" width="5" height="1" fill="#e6e6e6" fill-opacity="0.875"/><rect x="406" y="321" width="5" height="1" fill="#e6e6e6" fill-opacity="0.125"/><rect x="406" y="322" width="5" height="1" fill="#e6e6e6" fill-opacity="0.875"/><rect x="414" y="321" width="5" height="1" fill="#e6e6e6" fill-opacity="0.125"/><rect x="414" y="322" width="5" height="1" fill="#e6e6e6" fill-opacity="0.875"/><rect x="422" y="321" width="5" height="1" fill="#e6e6e6" fill-opacity="0.125"/><rect x="422" y="322" width="5" height="1" fill="#e6e6e6" fill-opacity="0.875"/><rect x="430" y="321" width="5" height="1" fill="#e6e6e6" fill-opacity="0.125"/><rect x="430" y="322" width="5" height="1" fill="#e6e6e6" fill-opacity="0.875"/><rect x="438" y="321" width="5" height="1" fill="#e6e6e6" fill-opacity="0.125"/><rect x="438" y="322" width="5" height="1" fill="#e6e6e6" fill-opacity="0.875"/><rect x="446" y="321" width="5" height="1" fill="#e6e6e6" fill-opacity="0.125"/><rect x="446" y="322" width="5" height="1" fill="#e6e6e6" fill-opacity="0.875"/><rect x="454" y="321" width="5" height="1" fill="#e6e6e6" fill-opacity="0.125"/><rect x="454" y="322" width="5" height="1" fill="#e6e6e6" fill-opacity="0.875"/><rect x="462" y="321" width="5" height="1" fill="#e6e6e6" fill-opacity="0.125"/><rect x="462" y="322" width="5" height="1" fill="#e6e6e6" fill-opacity="0.875"/><rect x="470" y="321" width="5" height="1" fill="#e6e6e6" fill-opacity="0.125"/><rect x="470" y="322" width="5" height="1" fill="#e6e6e6" fill-opacity="0.875"/><rect x="478" y="321" width="5" height="1" fill="#e6e6e6" fill-opacity="0.125"/><rect x="478" y="322" width="5" height="1" fill="#e6e6e6" fill-opacity="0.875"/><rect x="486" y="321" width="5" height="1" fill="#e6e6e6" fill-opacity="0.125"/><rect x="486" y="322" width="5" height="1" fill="#e6e6e6" fill-opacity="0.875"/><rect x="494" y="321" width="5" height="1" fill="#e6e6e6" fill-opacity="0.125"/><rect x="494" y="322" width="5" height="1" fill="#e6e6e6" fill-opacity="0.875"/><rect x="502" y="321" width="5" height="1" fill="#e6e6e6" fill-opacity="0.125"/><rect x="502" y="322" width="5" height="1" fill="#e6e6e6" fill-opacity="0.875"/><rect x="510" y="321" width="5" height="1" fill="#e6e6e6" fill-opacity="0.125"/><rect x="510" y="322" width="5" height="1" fill="#e6e6e6" fill-opacity="0.875"/><rect x="518" y="321" width="5" height="1" fill="#e6e6e6" fill-opacity="0.125"/><rect x="518" y="322" width="5" height="1" fill="#e6e6e6" fill-opacity="0.875"/><rect x="526" y="321" width="5" height="1" fill="#e6e6e6" fill-opacity="0.125"/><rect x="526" y="322" width="5" height="1" fill="#e6e6e6" fill-opacity="0.875"/><rect x="534" y="321" width="5" height="1" fill="#e6e6e6" fill-opacity="0.125"/><rect x="534" y="322" width="5" height="1" fill="#e6e6e6" fill-opacity="0.875"/><rect x="542" y="321" width="5" height="1" fill="#e6e6e6" fill-opacity="0.125"/><rect x="542" y="322" width="5" height="1" fill="#e6e6e6" fill-opacity="0.875"/><rect x="550" y="321" width="5" height="1" fill="#e6e6e6" fill-opacity="0.125"/><rect x="550" y="322" width="5" height="1" fill="#e6e6e6" fill-opacity="0.875"/><rect x="558" y="321" width="5" height="1" fill="#e6e6e6" fill-opacity="0.125"/><rect x="558" y="322" width="5" height="1" fill="#e6e6e6" fill-opacity="0.875"/><rect x="566" y="321" width="5" height="1" fill="#e6e6e6" fill-opacity="0.125"/><rect x="566" y="322" width="5" height="1" fill="#e6e6e6" fill-opacity="0.875"/><rect x="574" y="321" width="5" height="1" fill="#e6e6e6" fill-opacity="0.125"/><rect x="574" y="322" width="5" height="1" fill="#e6e6e6" fill-opacity="0.875"/><rect x="582" y="321" width="5" height="1" fill="#e6e6e6" fill-opacity="0.125"/><rect x="582" y="322" width="5" height="1" fill="#e6e6e6" fill-opacity="0.875"/><rect x="590" y="321" width="5" height="1" fill="#e6e6e6" fill-opacity="0.125"/><rect x="590" y="322" width="5" height="1" fill="#e6e6e6" fill-opacity="0.875"/><rect x="598" y="321" width="5" height="1" fill="#e6e6e6" fill-opacity="0.125"/><rect x="598" y="322" width="5" height="1" fill="#e6e6e6" fill-opacity="0.875"/><rect x="606" y="321" width="5" height="1" fill="#e6e6e6" fill-opacity="0.125"/><rect x="606" y="322" width="5" height="1" fill="#e6e6e6" fill-opacity="0.875"/><rect x="614" y="321" width="5" height="1" fill="#e6e6e6" fill-opacity="0.125"/><rect x="614" y="322" width="5" height="1" fill="#e6e6e6" fill-opacity="0.875"/><rect x="622" y="321" width="5" height="1" fill="#e6e6e6" fill-opacity="0.125"/><rect x="622" y="322" width="5" height="1" fill="#e6e6e6" fill-opacity="0.875"/><rect x="630" y="321" width="5" height="1" fill="#e6e6e6" fill-opacity="0.125"/><rect x="630" y="322" width="5" height="1" fill="#e6e6e6" fill-opacity="0.875"/><rect x="638" y="321" width="5" height="1" fill="#e6e6e6" fill-opacity="0.125"/><rect x="638" y="322" width="5" height="1" fill="#e6e6e6" fill-opacity="0.875"/><rect x="646" y="321" width="5" height="1" fill="#e6e6e6" fill-opacity="0.125"/><rect x="646" y="322" width="5" height="1" fill="#e6e6e6" fill-opacity="0.875"/><rect x="654" y="321" width="5" height="1" fill="#e6e6e6" fill-opacity="0.125"/><rect x="654" y="322" width="5" height="1" fill="#e6e6e6" fill-opacity="0.875"/><rect x="662" y="321" width="5" height="1" fill="#e6e6e6" fill-opacity="0.125"/><rect x="662" y="322" width="5" height="1" fill="#e6e6e6" fill-opacity="0.875"/><rect x="670" y="321" width="5" height="1" fill="#e6e6e6" fill-opacity="0.125"/><rect x="670" y="322" width="5" height="1" fill="#e6e6e6" fill-opacity="0.875"/><rect x="678" y="321" width="5" height="1" fill="#e6e6e6" fill-opacity="0.125"/><rect x="678" y="322" width="5" height="1" fill="#e6e6e6" fill-opacity="0.875"/><rect x="686" y="321" width="5" height="1" fill="#e6e6e6" fill-opacity="0.125"/><rect x="686" y="322" width="5" height="1" fill="#e6e6e6" fill-opacity="0.875"/><rect x="694" y="321" width="5" height="1" fill="#e6e6e6" fill-opacity="0.125"/><rect x="694" y="322" width="5" height="1" fill="#e6e6e6" fill-opacity="0.875"/><rect x="702" y="321" width="5" height="1" fill="#e6e6e6" fill-opacity="0.125"/><rect x="702" y="322" width="5" height="1" fill="#e6e6e6" fill-opacity="0.875"/><rect x="710" y="321" width="5" height="1" fill="#e6e6e6" fill-opacity="0.125"/><rect x="710" y="322" width="5" height="1" fill="#e6e6e6" fill-opacity="0.875"/><rect x="718" y="321" width="5" height="1" fill="#e6e6e6" fill-opacity="0.125"/><rect x="718" y="322" width="5" height="1" fill="#e6e6e6" fill-opacity="0.875"/><rect x="726" y="321" width="5" height="1" fill="#e6e6e6" fill-opacity="0.125"/><rect x="726" y="322" width="5" height="1" fill="#e6e6e6" fill-opacity="0.875"/><rect x="734" y="321" width="5" height="1" fill="#e6e6e6" fill-opacity="0.125"/><rect x="734" y="322" width="5" height="1" fill="#e6e6e6" fill-opacity="0.875"/><rect x="742" y="321" width="5" height="1" fill="#e6e6e6" fill-opacity="0.125"/><rect x="742" y="322" width="5" height="1" fill="#e6e6e6" fill-opacity="0.875"/><rect x="750" y="321" width="1" height="1" fill="#e6e6e6" fill-opacity="0.125"/><rect x="750" y="322" width="1" height="1" fill="#e6e6e6" fill-opacity="0.875"/><rect x="70" y="277" width="5" height="1" fill="#e6e6e6" fill-opacity="0.500"/><rect x="70" y="278" width="5" height="1" fill="#e6e6e6" fill-opacity="0.500"/><rect x="78" y="277" width="5" height="1" fill="#e6e6e6" fill-opacity="0.500"/><rect x="78" y="278" width="5" height="1" fill="#e6e6e6" fill-opacity="0.500"/><rect x="86" y="277" width="5" height="1" fill="#e6e6e6" fill-opacity="0.500"/><rect x="86" y="278" width="5" height="1" fill="#e6e6e6" fill-opacity="0.500"/><rect x="94" y="277" width="5" height="1" fill="#e6e6e6" fill-opacity="0.500"/><rect x="94" y="278" width="5" height="1" fill="#e6e6e6" fill-opacity="0.500"/><rect x="102" y="277" width="5" height="1" fill="#e6e6e6" fill-opacity="0.500"/><rect x="102" y="278" width="5" height="1" fill="#e6e6e6" fill-opacity="0.500"/><rect x="110" y="277" width="5" height="1" fill="#e6e6e6" fill-opacity="0.500"/><rect x="110" y="278" width="5" height="1" fill="#e6e6e6" fill-opacity="0.500"/><rect x="118" y="277" width="5" height="1" fill="#e6e6e6" fill-opacity="0.500"/><rect x="118" y="278" width="5" height="1" fill="#e6e6e6" fill-opacity="0.500"/><rect x="126" y="277" width="5" height="1" fill="#e6e6e6" fill-opacity="0.500"/><rect x="126" y="278" width="5" height="1" fill="#e6e6e6" fill-opacity="0.500"/><rect x="134" y="277" width="5" height="1" fill="#e6e6e6" fill-opacity="0.500"/><rect x="134" y="278" width="5" height="1" fill="#e6e6e6" fill-opacity="0.500"/><rect x="142" y="277" width="5" height="1" fill="#e6e6e6" fill-opacity="0.500"/><rect x="142" y="278" width="5" height="1" fill="#e6e6e6" fill-opacity="0.500"/><rect x="150" y="277" width="5" height="1" fill="#e6e6e6" fill-opacity="0.500"/><rect x="150" y="278" width="5" height="1" fill="#e6e6e6" fill-opacity="0.500"/><rect x="158" y="277" width="5" height="1" fill="#e6e6e6" fill-opacity="0.500"/><rect x="158" y="278" width="5" height="1" fill="#e6e6e6" fill-opacity="0.500"/><rect x="166" y="277" width="5" height="1" fill="#e6e6e6" fill-opacity="0.500"/><rect x="166" y="278" width="5" height="1" fill="#e6e6e6" fill-opacity="0.500"/><rect x="174" y="277" width="5" height="1" fill="#e6e6e6" fill-opacity="0.500"/><rect x="174" y="278" width="5" height="1" fill="#e6e6e6" fill-opacity="0.500"/><rect x="182" y="277" width="5" height="1" fill="#e6e6e6" fill-opacity="0.500"/><rect x="182" y="278" width="5" height="1" fill="#e6e6e6" fill-opacity="0.500"/><rect x="190" y="277" width="5" height="1" fill="#e6e6e6" fill-opacity="0.500"/><rect x="190" y="278" width="5" height="1" fill="#e6e6e6" fill-opacity="0.500"/><rect x="198" y="277" width="5" height="1" fill="#e6e6e6" fill-opacity="0.500"/><rect x="198" y="278" width="5" height="1" fill="#e6e6e6" fill-opacity="0.500"/><rect x="206" y="277" width="5" height="1" fill="#e6e6e6" fill-opacity="0.500"/><rect x="206" y="278" width="5" height="1" fill="#e6e6e6" fill-opacity="0.500"/><rect x="214" y="277" width="5" height="1" fill="#e6e6e6" fill-opacity="0.500"/><rect x="214" y="278" width="5" height="1" fill="#e6e6e6" fill-opacity="0.500"/><rect x="222" y="277" width="5" height="1" fill="#e6e6e6" fill-opacity="0.500"/><rect x="222" y="278" width="5" height="1" fill="#e6e6e6" fill-opacity="0.500"/><rect x="230" y="277" width="5" height="1" fill="#e6e6e6" fill-opacity="0.500"/><rect x="230" y="278" width="5" height="1" fill="#e6e6e6" fill-opacity="0.500"/><rect x="238" y="277" width="5" height="1" fill="#e6e6e6" fill-opacity="0.500"/><rect x="238" y="278" width="5" height="1" fill="#e6e6e6" fill-opacity="0.500"/><rect x="246" y="277" width="5" height="1" fill="#e6e6e6" fill-opacity="0.500"/><rect x="246" y="278" width="5" height="1" fill="#e6e6e6" fill-opacity="0.500"/><rect x="254" y="277" width="5" height="1" fill="#e6e6e6" fill-opacity="0.500"/><rect x="254" y="278" width="5" height="1" fill="#e6e6e6" fill-opacity="0.500"/><rect x="262" y="277" width="5" height="1" fill="#e6e6e6" fill-opacity="0.500"/><rect x="262" y="278" width="5" height="1" fill="#e6e6e6" fill-opacity="0.500"/><rect x="270" y="277" width="5" height="1" fill="#e6e6e6" fill-opacity="0.500"/><rect x="270" y="278" width="5" height="1" fill="#e6e6e6" fill-opacity="0.500"/><rect x="278" y="277" width="5" height="1" fill="#e6e6e6" fill-opacity="0.500"/><rect x="278" y="278" width="5" height="1" fill="#e6e6e6" fill-opacity="0.500"/><rect x="286" y="277" width="5" height="1" fill="#e6e6e6" fill-opacity="0.500"/><rect x="286" y="278" width="5" height="1" fill="#e6e6e6" fill-opacity="0.500"/><rect x="294" y="277" width="5" height="1" fill="#e6e6e6" fill-opacity="0.500"/><rect x="294" y="278" width="5" height="1" fill="#e6e6e6" fill-opacity="0.500"/><rect x="302" y="277" width="5" height="1" fill="#e6e6e6" fill-opacity="0.500"/><rect x="302" y="278" width="5" height="1" fill="#e6e6e6" fill-opacity="0.500"/><rect x="310" y="277" width="5" height="1" fill="#e6e6e6" fill-opacity="0.500"/><rect x="310" y="278" width="5" height="1" fill="#e6e6e6" fill-opacity="0.500"/><rect x="318" y="277" width="5" height="1" fill="#e6e6e6" fill-opacity="0.500"/><rect x="318" y="278" width="5" height="1" fill="#e6e6e6" fill-opacity="0.500"/><rect x="326" y="277" width="5" height="1" fill="#e6e6e6" fill-opacity="0.500"/><rect x="326" y="278" width="5" height="1" fill="#e6e6e6" fill-opacity="0.500"/><rect x="334" y="277" width="5" height="1" fill="#e6e6e6" fill-opacity="0.500"/><rect x="334" y="278" width="5" height="1" fill="#e6e6e6" fill-opacity="0.500"/><rect x="342" y="277" width="5" height="1" fill="#e6e6e6" fill-opacity="0.500"/><rect x="342" y="278" width="5" height="1" fill="#e6e6e6" fill-opacity="0.500"/><rect x="350" y="277" width="5" height="1" fill="#e6e6e6" fill-opacity="0.500"/><rect x="350" y="278" width="5" height="1" fill="#e6e6e6" fill-opacity="0.500"/><rect x="358" y="277" width="5" height="1" fill="#e6e6e6" fill-opacity="0.500"/><rect x="358" y="278" width="5" height="1" fill="#e6e6e6" fill-opacity="0.500"/><rect x="366" y="277" width="5" height="1" fill="#e6e6e6" fill-opacity="0.500"/><rect x="366" y="278" width="5" height="1" fill="#e6e6e6" fill-opacity="0.500"/><rect x="374" y="277" width="5" height="1" fill="#e6e6e6" fill-opacity="0.500"/><rect x="374" y="278" width="5" height="1" fill="#e6e6e6" fill-opacity="0.500"/><rect x="382" y="277" width="5" height="1" fill="#e6e6e6" fill-opacity="0.500"/><rect x="382" y="278" width="5" height="1" fill="#e6e6e6" fill-opacity="0.500"/><rect x="390" y="277" width="5" height="1" fill="#e6e6e6" fill-opacity="0.500"/><rect x="390" y="278" width="5" height="1" fill="#e6e6e6" fill-opacity="0.500"/><rect x="398" y="277" width="5" height="1" fill="#e6e6e6" fill-opacity="0.500"/><rect x="398" y="278" width="5" height="1" fill="#e6e6e6" fill-opacity="0.500"/><rect x="406" y="277" width="5" height="1" fill="#e6e6e6" fill-opacity="0.500"/><rect x="406" y="278" width="5" height="1" fill="#e6e6e6" fill-opacity="0.500"/><rect x="414" y="277" width="5" height="1" fill="#e6e6e6" fill-opacity="0.500"/><rect x="414" y="278" width="5" height="1" fill="#e6e6e6" fill-opacity="0.500"/><rect x="422" y="277" width="5" height="1" fill="#e6e6e6" fill-opacity="0.500"/><rect x="422" y="278" width="5" height="1" fill="#e6e6e6" fill-opacity="0.500"/><rect x="430" y="277" width="5" height="1" fill="#e6e6e6" fill-opacity="0.500"/><rect x="430" y="278" width="5" height="1" fill="#e6e6e6" fill-opacity="0.500"/><rect x="438" y="277" width="5" height="1" fill="#e6e6e6" fill-opacity="0.500"/><rect x="438" y="278" width="5" height="1" fill="#e6e6e6" fill-opacity="0.500"/><rect x="446" y="277" width="5" height="1" fill="#e6e6e6" fill-opacity="0.500"/><rect x="446" y="278" width="5" height="1" fill="#e6e6e6" fill-opacity="0.500"/><rect x="454" y="277" width="5" height="1" fill="#e6e6e6" fill-opacity="0.500"/><rect x="454" y="278" width="5" height="1" fill="#e6e6e6" fill-opacity="0.500"/><rect x="462" y="277" width="5" height="1" fill="#e6e6e6" fill-opacity="0.500"/><rect x="462" y="278" width="5" height="1" fill="#e6e6e6" fill-opacity="0.500"/><rect x="470" y="277" width="5" height="1" fill="#e6e6e6" fill-opacity="0.500"/><rect x="470" y="278" width="5" height="1" fill="#e6e6e6" fill-opacity="0.500"/><rect x="478" y="277" width="5" height="1" fill="#e6e6e6" fill-opacity="0.500"/><rect x="478" y="278" width="5" height="1" fill="#e6e6e6" fill-opacity="0.500"/><rect x="486" y="277" width="5" height="1" fill="#e6e6e6" fill-opacity="0.500"/><rect x="486" y="278" width="5" height="1" fill="#e6e6e6" fill-opacity="0.500"/><rect x="494" y="277" width="5" height="1" fill="#e6e6e6" fill-opacity="0.500"/><rect x="494" y="278" width="5" height="1" fill="#e6e6e6" fill-opacity="0.500"/><rect x="502" y="277" width="5" height="1" fill="#e6e6e6" fill-opacity="0.500"/><rect x="502" y="278" width="5" height="1" fill="#e6e6e6" fill-opacity="0.500"/><rect x="510" y="277" width="5" height="1" fill="#e6e6e6" fill-opacity="0.500"/><rect x="510" y="278" width="5" height="1" fill="#e6e6e6" fill-opacity="0.500"/><rect x="518" y="277" width="5" height="1" fill="#e6e6e6" fill-opacity="0.500"/><rect x="518" y="278" width="5" height="1" fill="#e6e6e6" fill-opacity="0.500"/><rect x="526" y="277" width="5" height="1" fill="#e6e6e6" fill-opacity="0.500"/><rect x="526" y="278" width="5" height="1" fill="#e6e6e6" fill-opacity="0.500"/><rect x="534" y="277" width="5" height="1" fill="#e6e6e6" fill-opacity="0.500"/><rect x="534" y="278" width="5" height="1" fill="#e6e6e6" fill-opacity="0.500"/><rect x="542" y="277" width="5" height="1" fill="#e6e6e6" fill-opacity="0.500"/><rect x="542" y="278" width="5" height="1" fill="#e6e6e6" fill-opacity="0.500"/><rect x="550" y="277" width="5" height="1" fill="#e6e6e6" fill-opacity="0.500"/><rect x="550" y="278" width="5" height="1" fill="#e6e6e6" fill-opacity="0.500"/><rect x="558" y="277" width="5" height="1" fill="#e6e6e6" fill-opacity="0.500"/><rect x="558" y="278" width="5" height="1" fill="#e6e6e6" fill-opacity="0.500"/><rect x="566" y="277" width="5" height="1" fill="#e6e6e6" fill-opacity="0.500"/><rect x="566" y="278" width="5" height="1" fill="#e6e6e6" fill-opacity="0.500"/><rect x="574" y="277" width="5" height="1" fill="#e6e6e6" fill-opacity="0.500"/><rect x="574" y="278" width="5" height="1" fill="#e6e6e6" fill-opacity="0.500"/><rect x="582" y="277" width="5" height="1" fill="#e6e6e6" fill-opacity="0.500"/><rect x="582" y="278" width="5" height="1" fill="#e6e6e6" fill-opacity="0.500"/><rect x="590" y="277" width="5" height="1" fill="#e6e6e6" fill-opacity="0.500"/><rect x="590" y="278" width="5" height="1" fill="#e6e6e6" fill-opacity="0.500"/><rect x="598" y="277" width="5" height="1" fill="#e6e6e6" fill-opacity="0.500"/><rect x="598" y="278" width="5" height="1" fill="#e6e6e6" fill-opacity="0.500"/><rect x="606" y="277" width="5" height="1" fill="#e6e6e6" fill-opacity="0.500"/><rect x="606" y="278" width="5" height="1" fill="#e6e6e6" fill-opacity="0.500"/><rect x="614" y="277" width="5" height="1" fill="#e6e6e6" fill-opacity="0.500"/><rect x="614" y="278" width="5" height="1" fill="#e6e6e6" fill-opacity="0.500"/><rect x="622" y="277" width="5" height="1" fill="#e6e6e6" fill-opacity="0.500"/><rect x="622" y="278" width="5" height="1" fill="#e6e6e6" fill-opacity="0.500"/><rect x="630" y="277" width="5" height="1" fill="#e6e6e6" fill-opacity="0.500"/><rect x="630" y="278" width="5" height="1" fill="#e6e6e6" fill-opacity="0.500"/><rect x="638" y="277" width="5" height="1" fill="#e6e6e6" fill-opacity="0.500"/><rect x="638" y="278" width="5" height="1" fill="#e6e6e6" fill-opacity="0.500"/><rect x="646" y="277" width="5" height="1" fill="#e6e6e6" fill-opacity="0.500"/><rect x="646" y="278" width="5" height="1" fill="#e6e6e6" fill-opacity="0.500"/><rect x="654" y="277" width="5" height="1" fill="#e6e6e6" fill-opacity="0.500"/><rect x="654" y="278" width="5" height="1" fill="#e6e6e6" fill-opacity="0.500"/><rect x="662" y="277" width="5" height="1" fill="#e6e6e6" fill-opacity="0.500"/><rect x="662" y="278" width="5" height="1" fill="#e6e6e6" fill-opacity="0.500"/><rect x="670" y="277" width="5" height="1" fill="#e6e6e6" fill-opacity="0.500"/><rect x="670" y="278" width="5" height="1" fill="#e6e6e6" fill-opacity="0.500"/><rect x="678" y="277" width="5" height="1" fill="#e6e6e6" fill-opacity="0.500"/><rect x="678" y="278" width="5" height="1" fill="#e6e6e6" fill-opacity="0.500"/><rect x="686" y="277" width="5" height="1" fill="#e6e6e6" fill-opacity="0.500"/><rect x="686" y="278" width="5" height="1" fill="#e6e6e6" fill-opacity="0.500"/><rect x="694" y="277" width="5" height="1" fill="#e6e6e6" fill-opacity="0.500"/><rect x="694" y="278" width="5" height="1" fill="#e6e6e6" fill-opacity="0.500"/><rect x="702" y="277" width="5" height="1" fill="#e6e6e6" fill-opacity="0.500"/><rect x="702" y="278" width="5" height="1" fill="#e6e6e6" fill-opacity="0.500"/><rect x="710" y="277" width="5" height="1" fill="#e6e6e6" fill-opacity="0.500"/><rect x="710" y="278" width="5" height="1" fill="#e6e6e6" fill-opacity="0.500"/><rect x="718" y="277" width="5" height="1" fill="#e6e6e6" fill-opacity="0.500"/><rect x="718" y="278" width="5" height="1" fill="#e6e6e6" fill-opacity="0.500"/><rect x="726" y="277" width="5" height="1" fill="#e6e6e6" fill-opacity="0.500"/><rect x="726" y="278" width="5" height="1" fill="#e6e6e6" fill-opacity="0.500"/><rect x="734" y="277" width="5" height="1" fill="#e6e6e6" fill-opacity="0.500"/><rect x="734" y="278" width="5" height="1" fill="#e6e6e6" fill-opacity="0.500"/><rect x="742" y="277" width="5" height="1" fill="#e6e6e6" fill-opacity="0.500"/><rect x="742" y="278" width="5" height="1" fill="#e6e6e6" fill-opacity="0.500"/><rect x="750" y="277" width="1" height="1" fill="#e6e6e6" fill-opacity="0.500"/><rect x="750" y="278" width="1" height="1" fill="#e6e6e6" fill-opacity="0.500"/><rect x="70" y="233" width="5" height="1" fill="#e6e6e6" fill-opacity="0.875"/><rect x="70" y="234" width="5" height="1" fill="#e6e6e6" fill-opacity="0.125"/><rect x="78" y="233" width="5" height="1" fill="#e6e6e6" fill-opacity="0.875"/><rect x="78" y="234" width="5" height="1" fill="#e6e6e6" fill-opacity="0.125"/><rect x="86" y="233" width="5" height="1" fill="#e6e6e6" fill-opacity="0.875"/><rect x="86" y="234" width="5" height="1" fill="#e6e6e6" fill-opacity="0.125"/><rect x="94" y="233" width="5" height="1" fill="#e6e6e6" fill-opacity="0.875"/><rect x="94" y="234" width="5" height="1" fill="#e6e6e6" fill-opacity="0.125"/><rect x="102" y="233" width="5" height="1" fill="#e6e6e6" fill-opacity="0.875"/><rect x="102" y="234" width="5" height="1" fill="#e6e6e6" fill-opacity="0.125"/><rect x="110" y="233" width="5" height="1" fill="#e6e6e6" fill-opacity="0.875"/><rect x="110" y="234" width="5" height="1" fill="#e6e6e6" fill-opacity="0.125"/><rect x="118" y="233" width="5" height="1" fill="#e6e6e6" fill-opacity="0.875"/><rect x="118" y="234" width="5" height="1" fill="#e6e6e6" fill-opacity="0.125"/><rect x="126" y="233" width="5" height="1" fill="#e6e6e6" fill-opacity="0.875"/><rect x="126" y="234" width="5" height="1" fill="#e6e6e6" fill-opacity="0.125"/><rect x="134" y="233" width="5" height="1" fill="#e6e6e6" fill-opacity="0.875"/><rect x="134" y="234" width="5" height="1" fill="#e6e6e6" fill-opacity="0.125"/><rect x="142" y="233" width="5" height="1" fill="#e6e6e6" fill-opacity="0.875"/><rect x="142" y="234" width="5" height="1" fill="#e6e6e6" fill-opacity="0.125"/><rect x="150" y="233" width="5" height="1" fill="#e6e6e6" fill-opacity="0.875"/><rect x="150" y="234" width="5" height="1" fill="#e6e6e6" fill-opacity="0.125"/><rect x="158" y="233" width="5" height="1" fill="#e6e6e6" fill-opacity="0.875"/><rect x="158" y="234" width="5" height="1" fill="#e6e6e6" fill-opacity="0.125"/><rect x="166" y="233" width="5" height="1" fill="#e6e6e6" fill-opacity="0.875"/><rect x="166" y="234" width="5" height="1" fill="#e6e6e6" fill-opacity="0.125"/><rect x="174" y="233" width="5" height="1" fill="#e6e6e6" fill-opacity="0.875"/><rect x="174" y="234" width="5" height="1" fill="#e6e6e6" fill-opacity="0.125"/><rect x="182" y="233" width="5" height="1" fill="#e6e6e6" fill-opacity="0.875"/><rect x="182" y="234" width="5" height="1" fill="#e6e6e6" fill-opacity="0.125"/><rect x="190" y="233" width="5" height="1" fill="#e6e6e6" fill-opacity="0.875"/><rect x="190" y="234" width="5" height="1" fill="#e6e6e6" fill-opacity="0.125"/><rect x="198" y="233" width="5" height="1" fill="#e6e6e6" fill-opacity="0.875"/><rect x="198" y="234" width="5" height="1" fill="#e6e6e6" fill-opacity="0.125"/><rect x="206" y="233" width="5" height="1" fill="#e6e6e6" fill-opacity="0.875"/><rect x="206" y="234" width="5" height="1" fill="#e6e6e6" fill-opacity="0.125"/><rect x="214" y="233" width="5" height="1" fill="#e6e6e6" fill-opacity="0.875"/><rect x="214" y="234" width="5" height="1" fill="#e6e6e6" fill-opacity="0.125"/><rect x="222" y="233" width="5" height="1" fill="#e6e6e6" fill-opacity="0.875"/><rect x="222" y="234" width="5" height="1" fill="#e6e6e6" fill-opacity="0.125"/><rect x="230" y="233" width="5" height="1" fill="#e6e6e6" fill-opacity="0.875"/><rect x="230" y="234" width="5" height="1" fill="#e6e6e6" fill-opacity="0.125"/><rect x="238" y="233" width="5" height="1" fill="#e6e6e6" fill-opacity="0.875"/><rect x="238" y="234" width="5" height="1" fill="#e6e6e6" fill-opacity="0.125"/><rect x="246" y="233" width="5" height="1" fill="#e6e6e6" fill-opacity="0.875"/><rect x="246" y="234" width="5" height="1" fill="#e6e6e6" fill-opacity="0.125"/><rect x="254" y="233" width="5" height="1" fill="#e6e6e6" fill-opacity="0.875"/><rect x="254" y="234" width="5" height="1" fill="#e6e6e6" fill-opacity="0.125"/><rect x="262" y="233" width="5" height="1" fill="#e6e6e6" fill-opacity="0.875"/><rect x="262" y="234" width="5" height="1" fill="#e6e6e6" fill-opacity="0.125"/><rect x="270" y="233" width="5" height="1" fill="#e6e6e6" fill-opacity="0.875"/><rect x="270" y="234" width="5" height="1" fill="#e6e6e6" fill-opacity="0.125"/><rect x="278" y="233" width="5" height="1" fill="#e6e6e6" fill-opacity="0.875"/><rect x="278" y="234" width="5" height="1" fill="#e6e6e6" fill-opacity="0.125"/><rect x="286" y="233" width="5" height="1" fill="#e6e6e6" fill-opacity="0.875"/><rect x="286" y="234" width="5" height="1" fill="#e6e6e6" fill-opacity="0.125"/><rect x="294" y="233" width="5" height="1" fill="#e6e6e6" fill-opacity="0.875"/><rect x="294" y="234" width="5" height="1" fill="#e6e6e6" fill-opacity="0.125"/><rect x="302" y="233" width="5" height="1" fill="#e6e6e6" fill-opacity="0.875"/><rect x="302" y="234" width="5" height="1" fill="#e6e6e6" fill-opacity="0.125"/><rect x="310" y="233" width="5" height="1" fill="#e6e6e6" fill-opacity="0.875"/><rect x="310" y="234" width="5" height="1" fill="#e6e6e6" fill-opacity="0.125"/><rect x="318" y="233" width="5" height="1" fill="#e6e6e6" fill-opacity="0.875"/><rect x="318" y="234" width="5" height="1" fill="#e6e6e6" fill-opacity="0.125"/><rect x="326" y="233" width="5" height="1" fill="#e6e6e6" fill-opacity="0.875"/><rect x="326" y="234" width="5" height="1" fill="#e6e6e6" fill-opacity="0.125"/><rect x="334" y="233" width="5" height="1" fill="#e6e6e6" fill-opacity="0.875"/><rect x="334" y="234" width="5" height="1" fill="#e6e6e6" fill-opacity="0.125"/><rect x="342" y="233" width="5" height="1" fill="#e6e6e6" fill-opacity="0.875"/><rect x="342" y="234" width="5" height="1" fill="#e6e6e6" fill-opacity="0.125"/><rect x="350" y="233" width="5" height="1" fill="#e6e6e6" fill-opacity="0.875"/><rect x="350" y="234" width="5" height="1" fill="#e6e6e6" fill-opacity="0.125"/><rect x="358" y="233" width="5" height="1" fill="#e6e6e6" fill-opacity="0.875"/><rect x="358" y="234" width="5" height="1" fill="#e6e6e6" fill-opacity="0.125"/><rect x="366" y="233" width="5" height="1" fill="#e6e6e6" fill-opacity="0.875"/><rect x="366" y="234" width="5" height="1" fill="#e6e6e6" fill-opacity="0.125"/><rect x="374" y="233" width="5" height="1" fill="#e6e6e6" fill-opacity="0.875"/><rect x="374" y="234" width="5" height="1" fill="#e6e6e6" fill-opacity="0.125"/><rect x="382" y="233" width="5" height="1" fill="#e6e6e6" fill-opacity="0.875"/><rect x="382" y="234" width="5" height="1" fill="#e6e6e6" fill-opacity="0.125"/><rect x="390" y="233" width="5" height="1" fill="#e6e6e6" fill-opacity="0.875"/><rect x="390" y="234" width="5" height="1" fill="#e6e6e6" fill-opacity="0.125"/><rect x="398" y="233" width="5" height="1" fill="#e6e6e6" fill-opacity="0.875"/><rect x="398" y="234" width="5" height="1" fill="#e6e6e6" fill-opacity="0.125"/><rect x="406" y="233" width="5" height="1" fill="#e6e6e6" fill-opacity="0.875"/><rect x="406" y="234" width="5" height="1" fill="#e6e6e6" fill-opacity="0.125"/><rect x="414" y="233" width="5" height="1" fill="#e6e6e6" fill-opacity="0.875"/><rect x="414" y="234" width="5" height="1" fill="#e6e6e6" fill-opacity="0.125"/><rect x="422" y="233" width="5" height="1" fill="#e6e6e6" fill-opacity="0.875"/><rect x="422" y="234" width="5" height="1" fill="#e6e6e6" fill-opacity="0.125"/><rect x="430" y="233" width="5" height="1" fill="#e6e6e6" fill-opacity="0.875"/><rect x="430" y="234" width="5" height="1" fill="#e6e6e6" fill-opacity="0.125"/><rect x="438" y="233" width="5" height="1" fill="#e6e6e6" fill-opacity="0.875"/><rect x="438" y="234" width="5" height="1" fill="#e6e6e6" fill-opacity="0.125"/><rect x="446" y="233" width="5" height="1" fill="#e6e6e6" fill-opacity="0.875"/><rect x="446" y="234" width="5" height="1" fill="#e6e6e6" fill-opacity="0.125"/><rect x="454" y="233" width="5" height="1" fill="#e6e6e6" fill-opacity="0.875"/><rect x="454" y="234" width="5" height="1" fill="#e6e6e6" fill-opacity="0.125"/><rect x="462" y="233" width="5" height="1" fill="#e6e6e6" fill-opacity="0.875"/><rect x="462" y="234" width="5" height="1" fill="#e6e6e6" fill-opacity="0.125"/><rect x="470" y="233" width="5" height="1" fill="#e6e6e6" fill-opacity="0.875"/><rect x="470" y="234" width="5" height="1" fill="#e6e6e6" fill-opacity="0.125"/><rect x="478" y="233" width="5" height="1" fill="#e6e6e6" fill-opacity="0.875"/><rect x="478" y="234" width="5" height="1" fill="#e6e6e6" fill-opacity="0.125"/><rect x="486" y="233" width="5" height="1" fill="#e6e6e6" fill-opacity="0.875"/><rect x="486" y="234" width="5" height="1" fill="#e6e6e6" fill-opacity="0.125"/><rect x="494" y="233" width="5" height="1" fill="#e6e6e6" fill-opacity="0.875"/><rect x="494" y="234" width="5" height="1" fill="#e6e6e6" fill-opacity="0.125"/><rect x="502" y="233" width="5" height="1" fill="#e6e6e6" fill-opacity="0.875"/><rect x="502" y="234" width="5" height="1" fill="#e6e6e6" fill-opacity="0.125"/><rect x="510" y="233" width="5" height="1" fill="#e6e6e6" fill-opacity="0.875"/><rect x="510" y="234" width="5" height="1" fill="#e6e6e6" fill-opacity="0.125"/><rect x="518" y="233" width="5" height="1" fill="#e6e6e6" fill-opacity="0.875"/><rect x="518" y="234" width="5" height="1" fill="#e6e6e6" fill-opacity="0.125"/><rect x="526" y="233" width="5" height="1" fill="#e6e6e6" fill-opacity="0.875"/><rect x="526" y="234" width="5" height="1" fill="#e6e6e6" fill-opacity="0.125"/><rect x="534" y="233" width="5" height="1" fill="#e6e6e6" fill-opacity="0.875"/><rect x="534" y="234" width="5" height="1" fill="#e6e6e6" fill-opacity="0.125"/><rect x="542" y="233" width="5" height="1" fill="#e6e6e6" fill-opacity="0.875"/><rect x="542" y="234" width="5" height="1" fill="#e6e6e6" fill-opacity="0.125"/><rect x="550" y="233" width="5" height="1" fill="#e6e6e6" fill-opacity="0.875"/><rect x="550" y="234" width="5" height="1" fill="#e6e6e6" fill-opacity="0.125"/><rect x="558" y="233" width="5" height="1" fill="#e6e6e6" fill-opacity="0.875"/><rect x="558" y="234" width="5" height="1" fill="#e6e6e6" fill-opacity="0.125"/><rect x="566" y="233" width="5" height="1" fill="#e6e6e6" fill-opacity="0.875"/><rect x="566" y="234" width="5" height="1" fill="#e6e6e6" fill-opacity="0.125"/><rect x="574" y="233" width="5" height="1" fill="#e6e6e6" fill-opacity="0.875"/><rect x="574" y="234" width="5" height="1" fill="#e6e6e6" fill-opacity="0.125"/><rect x="582" y="233" width="5" height="1" fill="#e6e6e6" fill-opacity="0.875"/><rect x="582" y="234" width="5" height="1" fill="#e6e6e6" fill-opacity="0.125"/><rect x="590" y="233" width="5" height="1" fill="#e6e6e6" fill-opacity="0.875"/><rect x="590" y="234" width="5" height="1" fill="#e6e6e6" fill-opacity="0.125"/><rect x="598" y="233" width="5" height="1" fill="#e6e6e6" fill-opacity="0.875"/><rect x="598" y="234" width="5" height="1" fill="#e6e6e6" fill-opacity="0.125"/><rect x="606" y="233" width="5" height="1" fill="#e6e6e6" fill-opacity="0.875"/><rect x="606" y="234" width="5" height="1" fill="#e6e6e6" fill-opacity="0.125"/><rect x="614" y="233" width="5" height="1" fill="#e6e6e6" fill-opacity="0.875"/><rect x="614" y="234" width="5" height="1" fill="#e6e6e6" fill-opacity="0.125"/><rect x="622" y="233" width="5" height="1" fill="#e6e6e6" fill-opacity="0.875"/><rect x="622" y="234" width="5" height="1" fill="#e6e6e6" fill-opacity="0.125"/><rect x="630" y="233" width="5" height="1" fill="#e6e6e6" fill-opacity="0.875"/><rect x="630" y="234" width="5" height="1" fill="#e6e6e6" fill-opacity="0.125"/><rect x="638" y="233" width="5" height="1" fill="#e6e6e6" fill-opacity="0.875"/><rect x="638" y="234" width="5" height="1" fill="#e6e6e6" fill-opacity="0.125"/><rect x="646" y="233" width="5" height="1" fill="#e6e6e6" fill-opacity="0.875"/><rect x="646" y="234" width="5" height="1" fill="#e6e6e6" fill-opacity="0.125"/><rect x="654" y="233" width="5" height="1" fill="#e6e6e6" fill-opacity="0.875"/><rect x="654" y="234" width="5" height="1" fill="#e6e6e6" fill-opacity="0.125"/><rect x="662" y="233" width="5" height="1" fill="#e6e6e6" fill-opacity="0.875"/><rect x="662" y="234" width="5" height="1" fill="#e6e6e6" fill-opacity="0.125"/><rect x="670" y="233" width="5" height="1" fill="#e6e6e6" fill-opacity="0.875"/><rect x="670" y="234" width="5" height="1" fill="#e6e6e6" fill-opacity="0.125"/><rect x="678" y="233" width="5" height="1" fill="#e6e6e6" fill-opacity="0.875"/><rect x="678" y="234" width="5" height="1" fill="#e6e6e6" fill-opacity="0.125"/><rect x="686" y="233" width="5" height="1" fill="#e6e6e6" fill-opacity="0.875"/><rect x="686" y="234" width="5" height="1" fill="#e6e6e6" fill-opacity="0.125"/><rect x="694" y="233" width="5" height="1" fill="#e6e6e6" fill-opacity="0.875"/><rect x="694" y="234" width="5" height="1" fill="#e6e6e6" fill-opacity="0.125"/><rect x="702" y="233" width="5" height="1" fill="#e6e6e6" fill-opacity="0.875"/><rect x="702" y="234" width="5" height="1" fill="#e6e6e6" fill-opacity="0.125"/><rect x="710" y="233" width="5" height="1" fill="#e6e6e6" fill-opacity="0.875"/><rect x="710" y="234" width="5" height="1" fill="#e6e6e6" fill-opacity="0.125"/><rect x="718" y="233" width="5" height="1" fill="#e6e6e6" fill-opacity="0.875"/><rect x="718" y="234" width="5" height="1" fill="#e6e6e6" fill-opacity="0.125"/><rect x="726" y="233" width="5" height="1" fill="#e6e6e6" fill-opacity="0.875"/><rect x="726" y="234" width="5" height="1" fill="#e6e6e6" fill-opacity="0.125"/><rect x="734" y="233" width="5" height="1" fill="#e6e6e6" fill-opacity="0.875"/><rect x="734" y="234" width="5" height="1" fill="#e6e6e6" fill-opacity="0.125"/><rect x="742" y="233" width="5" height="1" fill="#e6e6e6" fill-opacity="0.875"/><rect x="742" y="234" width="5" height="1" fill="#e6e6e6" fill-opacity="0.125"/><rect x="750" y="233" width="1" height="1" fill="#e6e6e6" fill-opacity="0.875"/><rect x="750" y="234" width="1" height="1" fill="#e6e6e6" fill-opacity="0.125"/><rect x="70" y="188" width="5" height="1" fill="#e6e6e6" fill-opacity="0.250"/><rect x="70" y="189" width="5" height="1" fill="#e6e6e6" fill-opacity="0.750"/><rect x="78" y="188" width="5" height="1" fill="#e6e6e6" fill-opacity="0.250"/><rect x="78" y="189" width="5" height="1" fill="#e6e6e6" fill-opacity="0.750"/><rect x="86" y="188" width="5" height="1" fill="#e6e6e6" fill-opacity="0.250"/><rect x="86" y="189" width="5" height="1" fill="#e6e6e6" fill-opacity="0.750"/><rect x="94" y="188" width="5" height="1" fill="#e6e6e6" fill-opacity="0.250"/><rect x="94" y="189" width="5" height="1" fill="#e6e6e6" fill-opacity="0.750"/><rect x="102" y="188" width="5" height="1" fill="#e6e6e6" fill-opacity="0.250"/><rect x="102" y="189" width="5" height="1" fill="#e6e6e6" fill-opacity="0.750"/><rect x="110" y="188" width="5" height="1" fill="#e6e6e6" fill-opacity="0.250"/><rect x="110" y="189" width="5" height="1" fill="#e6e6e6" fill-opacity="0.750"/><rect x="118" y="188" width="5" height="1" fill="#e6e6e6" fill-opacity="0.250"/><rect x="118" y="189" width="5" height="1" fill="#e6e6e6" fill-opacity="0.750"/><rect x="126" y="188" width="5" height="1" fill="#e6e6e6" fill-opacity="0.250"/><rect x="126" y="189" width="5" height="1" fill="#e6e6e6" fill-opacity="0.750"/><rect x="134" y="188" width="5" height="1" fill="#e6e6e6" fill-opacity="0.250"/><rect x="134" y="189" width="5" height="1" fill="#e6e6e6" fill-opacity="0.750"/><rect x="142" y="188" width="5" height="1" fill="#e6e6e6" fill-opacity="0.250"/><rect x="142" y="189" width="5" height="1" fill="#e6e6e6" fill-opacity="0.750"/><rect x="150" y="188" width="5" height="1" fill="#e6e6e6" fill-opacity="0.250"/><rect x="150" y="189" width="5" height="1" fill="#e6e6e6" fill-opacity="0.750"/><rect x="158" y="188" width="5" height="1" fill="#e6e6e6" fill-opacity="0.250"/><rect x="158" y="189" width="5" height="1" fill="#e6e6e6" fill-opacity="0.750"/><rect x="166" y="188" width="5" height="1" fill="#e6e6e6" fill-opacity="0.250"/><rect x="166" y="189" width="5" height="1" fill="#e6e6e6" fill-opacity="0.750"/><rect x="174" y="188" width="5" height="1" fill="#e6e6e6" fill-opacity="0.250"/><rect x="174" y="189" width="5" height="1" fill="#e6e6e6" fill-opacity="0.750"/><rect x="182" y="188" width="5" height="1" fill="#e6e6e6" fill-opacity="0.250"/><rect x="182" y="189" width="5" height="1" fill="#e6e6e6" fill-opacity="0.750"/><rect x="190" y="188" width="5" height="1" fill="#e6e6e6" fill-opacity="0.250"/><rect x="190" y="189" width="5" height="1" fill="#e6e6e6" fill-opacity="0.750"/><rect x="198" y="188" width="5" height="1" fill="#e6e6e6" fill-opacity="0.250"/><rect x="198" y="189" width="5" height="1" fill="#e6e6e6" fill-opacity="0.750"/><rect x="206" y="188" width="5" height="1" fill="#e6e6e6" fill-opacity="0.250"/><rect x="206" y="189" width="5" height="1" fill="#e6e6e6" fill-opacity="0.750"/><rect x="214" y="188" width="5" height="1" fill="#e6e6e6" fill-opacity="0.250"/><rect x="214" y="189" width="5" height="1" fill="#e6e6e6" fill-opacity="0.750"/><rect x="222" y="188" width="5" height="1" fill="#e6e6e6" fill-opacity="0.250"/><rect x="222" y="189" width="5" height="1" fill="#e6e6e6" fill-opacity="0.750"/><rect x="230" y="188" width="5" height="1" fill="#e6e6e6" fill-opacity="0.250"/><rect x="230" y="189" width="5" height="1" fill="#e6e6e6" fill-opacity="0.750"/><rect x="238" y="188" width="5" height="1" fill="#e6e6e6" fill-opacity="0.250"/><rect x="238" y="189" width="5" height="1" fill="#e6e6e6" fill-opacity="0.750"/><rect x="246" y="188" width="5" height="1" fill="#e6e6e6" fill-opacity="0.250"/><rect x="246" y="189" width="5" height="1" fill="#e6e6e6" fill-opacity="0.750"/><rect x="254" y="188" width="5" height="1" fill="#e6e6e6" fill-opacity="0.250"/><rect x="254" y="189" width="5" height="1" fill="#e6e6e6" fill-opacity="0.750"/><rect x="262" y="188" width="5" height="1" fill="#e6e6e6" fill-opacity="0.250"/><rect x="262" y="189" width="5" height="1" fill="#e6e6e6" fill-opacity="0.750"/><rect x="270" y="188" width="5" height="1" fill="#e6e6e6" fill-opacity="0.250"/><rect x="270" y="189" width="5" height="1" fill="#e6e6e6" fill-opacity="0.750"/><rect x="278" y="188" width="5" height="1" fill="#e6e6e6" fill-opacity="0.250"/><rect x="278" y="189" width="5" height="1" fill="#e6e6e6" fill-opacity="0.750"/><rect x="286" y="188" width="5" height="1" fill="#e6e6e6" fill-opacity="0.250"/><rect x="286" y="189" width="5" height="1" fill="#e6e6e6" fill-opacity="0.750"/><rect x="294" y="188" width="5" height="1" fill="#e6e6e6" fill-opacity="0.250"/><rect x="294" y="189" width="5" height="1" fill="#e6e6e6" fill-opacity="0.750"/><rect x="302" y="188" width="5" height="1" fill="#e6e6e6" fill-opacity="0.250"/><rect x="302" y="189" width="5" height="1" fill="#e6e6e6" fill-opacity="0.750"/><rect x="310" y="188" width="5" height="1" fill="#e6e6e6" fill-opacity="0.250"/><rect x="310" y="189" width="5" height="1" fill="#e6e6e6" fill-opacity="0.750"/><rect x="318" y="188" width="5" height="1" fill="#e6e6e6" fill-opacity="0.250"/><rect x="318" y="189" width="5" height="1" fill="#e6e6e6" fill-opacity="0.750"/><rect x="326" y="188" width="5" height="1" fill="#e6e6e6" fill-opacity="0.250"/><rect x="326" y="189" width="5" height="1" fill="#e6e6e6" fill-opacity="0.750"/><rect x="334" y="188" width="5" height="1" fill="#e6e6e6" fill-opacity="0.250"/><rect x="334" y="189" width="5" height="1" fill="#e6e6e6" fill-opacity="0.750"/><rect x="342" y="188" width="5" height="1" fill="#e6e6e6" fill-opacity="0.250"/><rect x="342" y="189" width="5" height="1" fill="#e6e6e6" fill-opacity="0.750"/><rect x="350" y="188" width="5" height="1" fill="#e6e6e6" fill-opacity="0.250"/><rect x="350" y="189" width="5" height="1" fill="#e6e6e6" fill-opacity="0.750"/><rect x="358" y="188" width="5" height="1" fill="#e6e6e6" fill-opacity="0.250"/><rect x="358" y="189" width="5" height="1" fill="#e6e6e6" fill-opacity="0.750"/><rect x="366" y="188" width="5" height="1" fill="#e6e6e6" fill-opacity="0.250"/><rect x="366" y="189" width="5" height="1" fill="#e6e6e6" fill-opacity="0.750"/><rect x="374" y="188" width="5" height="1" fill="#e6e6e6" fill-opacity="0.250"/><rect x="374" y="189" width="5" height="1" fill="#e6e6e6" fill-opacity="0.750"/><rect x="382" y="188" width="5" height="1" fill="#e6e6e6" fill-opacity="0.250"/><rect x="382" y="189" width="5" height="1" fill="#e6e6e6" fill-opacity="0.750"/><rect x="390" y="188" width="5" height="1" fill="#e6e6e6" fill-opacity="0.250"/><rect x="390" y="189" width="5" height="1" fill="#e6e6e6" fill-opacity="0.750"/><rect x="398" y="188" width="5" height="1" fill="#e6e6e6" fill-opacity="0.250"/><rect x="398" y="189" width="5" height="1" fill="#e6e6e6" fill-opacity="0.750"/><rect x="406" y="188" width="5" height="1" fill="#e6e6e6" fill-opacity="0.250"/><rect x="406" y="189" width="5" height="1" fill="#e6e6e6" fill-opacity="0.750"/><rect x="414" y="188" width="5" height="1" fill="#e6e6e6" fill-opacity="0.250"/><rect x="414" y="189" width="5" height="1" fill="#e6e6e6" fill-opacity="0.750"/><rect x="422" y="188" width="5" height="1" fill="#e6e6e6" fill-opacity="0.250"/><rect x="422" y="189" width="5" height="1" fill="#e6e6e6" fill-opacity="0.750"/><rect x="430" y="188" width="5" height="1" fill="#e6e6e6" fill-opacity="0.250"/><rect x="430" y="189" width="5" height="1" fill="#e6e6e6" fill-opacity="0.750"/><rect x="438" y="188" width="5" height="1" fill="#e6e6e6" fill-opacity="0.250"/><rect x="438" y="189" width="5" height="1" fill="#e6e6e6" fill-opacity="0.750"/><rect x="446" y="188" width="5" height="1" fill="#e6e6e6" fill-opacity="0.250"/><rect x="446" y="189" width="5" height="1" fill="#e6e6e6" fill-opacity="0.750"/><rect x="454" y="188" width="5" height="1" fill="#e6e6e6" fill-opacity="0.250"/><rect x="454" y="189" width="5" height="1" fill="#e6e6e6" fill-opacity="0.750"/><rect x="462" y="188" width="5" height="1" fill="#e6e6e6" fill-opacity="0.250"/><rect x="462" y="189" width="5" height="1" fill="#e6e6e6" fill-opacity="0.750"/><rect x="470" y="188" width="5" height="1" fill="#e6e6e6" fill-opacity="0.250"/><rect x="470" y="189" width="5" height="1" fill="#e6e6e6" fill-opacity="0.750"/><rect x="478" y="188" width="5" height="1" fill="#e6e6e6" fill-opacity="0.250"/><rect x="478" y="189" width="5" height="1" fill="#e6e6e6" fill-opacity="0.750"/><rect x="486" y="188" width="5" height="1" fill="#e6e6e6" fill-opacity="0.250"/><rect x="486" y="189" width="5" height="1" fill="#e6e6e6" fill-opacity="0.750"/><rect x="494" y="188" width="5" height="1" fill="#e6e6e6" fill-opacity="0.250"/><rect x="494" y="189" width="5" height="1" fill="#e6e6e6" fill-opacity="0.750"/><rect x="502" y="188" width="5" height="1" fill="#e6e6e6" fill-opacity="0.250"/><rect x="502" y="189" width="5" height="1" fill="#e6e6e6" fill-opacity="0.750"/><rect x="510" y="188" width="5" height="1" fill="#e6e6e6" fill-opacity="0.250"/><rect x="510" y="189" width="5" height="1" fill="#e6e6e6" fill-opacity="0.750"/><rect x="518" y="188" width="5" height="1" fill="#e6e6e6" fill-opacity="0.250"/><rect x="518" y="189" width="5" height="1" fill="#e6e6e6" fill-opacity="0.750"/><rect x="526" y="188" width="5" height="1" fill="#e6e6e6" fill-opacity="0.250"/><rect x="526" y="189" width="5" height="1" fill="#e6e6e6" fill-opacity="0.750"/><rect x="534" y="188" width="5" height="1" fill="#e6e6e6" fill-opacity="0.250"/><rect x="534" y="189" width="5" height="1" fill="#e6e6e6" fill-opacity="0.750"/><rect x="542" y="188" width="5" height="1" fill="#e6e6e6" fill-opacity="0.250"/><rect x="542" y="189" width="5" height="1" fill="#e6e6e6" fill-opacity="0.750"/><rect x="550" y="188" width="5" height="1" fill="#e6e6e6" fill-opacity="0.250"/><rect x="550" y="189" width="5" height="1" fill="#e6e6e6" fill-opacity="0.750"/><rect x="558" y="188" width="5" height="1" fill="#e6e6e6" fill-opacity="0.250"/><rect x="558" y="189" width="5" height="1" fill="#e6e6e6" fill-opacity="0.750"/><rect x="566" y="188" width="5" height="1" fill="#e6e6e6" fill-opacity="0.250"/><rect x="566" y="189" width="5" height="1" fill="#e6e6e6" fill-opacity="0.750"/><rect x="574" y="188" width="5" height="1" fill="#e6e6e6" fill-opacity="0.250"/><rect x="574" y="189" width="5" height="1" fill="#e6e6e6" fill-opacity="0.750"/><rect x="582" y="188" width="5" height="1" fill="#e6e6e6" fill-opacity="0.250"/><rect x="582" y="189" width="5" height="1" fill="#e6e6e6" fill-opacity="0.750"/><rect x="590" y="188" width="5" height="1" fill="#e6e6e6" fill-opacity="0.250"/><rect x="590" y="189" width="5" height="1" fill="#e6e6e6" fill-opacity="0.750"/><rect x="598" y="188" width="5" height="1" fill="#e6e6e6" fill-opacity="0.250"/><rect x="598" y="189" width="5" height="1" fill="#e6e6e6" fill-opacity="0.750"/><rect x="606" y="188" width="5" height="1" fill="#e6e6e6" fill-opacity="0.250"/><rect x="606" y="189" width="5" height="1" fill="#e6e6e6" fill-opacity="0.750"/><rect x="614" y="188" width="5" height="1" fill="#e6e6e6" fill-opacity="0.250"/><rect x="614" y="189" width="5" height="1" fill="#e6e6e6" fill-opacity="0.750"/><rect x="622" y="188" width="5" height="1" fill="#e6e6e6" fill-opacity="0.250"/><rect x="622" y="189" width="5" height="1" fill="#e6e6e6" fill-opacity="0.750"/><rect x="630" y="188" width="5" height="1" fill="#e6e6e6" fill-opacity="0.250"/><rect x="630" y="189" width="5" height="1" fill="#e6e6e6" fill-opacity="0.750"/><rect x="638" y="188" width="5" height="1" fill="#e6e6e6" fill-opacity="0.250"/><rect x="638" y="189" width="5" height="1" fill="#e6e6e6" fill-opacity="0.750"/><rect x="646" y="188" width="5" height="1" fill="#e6e6e6" fill-opacity="0.250"/><rect x="646" y="189" width="5" height="1" fill="#e6e6e6" fill-opacity="0.750"/><rect x="654" y="188" width="5" height="1" fill="#e6e6e6" fill-opacity="0.250"/><rect x="654" y="189" width="5" height="1" fill="#e6e6e6" fill-opacity="0.750"/><rect x="662" y="188" width="5" height="1" fill="#e6e6e6" fill-opacity="0.250"/><rect x="662" y="189" width="5" height="1" fill="#e6e6e6" fill-opacity="0.750"/><rect x="670" y="188" width="5" height="1" fill="#e6e6e6" fill-opacity="0.250"/><rect x="670" y="189" width="5" height="1" fill="#e6e6e6" fill-opacity="0.750"/><rect x="678" y="188" width="5" height="1" fill="#e6e6e6" fill-opacity="0.250"/><rect x="678" y="189" width="5" height="1" fill="#e6e6e6" fill-opacity="0.750"/><rect x="686" y="188" width="5" height="1" fill="#e6e6e6" fill-opacity="0.250"/><rect x="686" y="189" width="5" height="1" fill="#e6e6e6" fill-opacity="0.750"/><rect x="694" y="188" width="5" height="1" fill="#e6e6e6" fill-opacity="0.250"/><rect x="694" y="189" width="5" height="1" fill="#e6e6e6" fill-opacity="0.750"/><rect x="702" y="188" width="5" height="1" fill="#e6e6e6" fill-opacity="0.250"/><rect x="702" y="189" width="5" height="1" fill="#e6e6e6" fill-opacity="0.750"/><rect x="710" y="188" width="5" height="1" fill="#e6e6e6" fill-opacity="0.250"/><rect x="710" y="189" width="5" height="1" fill="#e6e6e6" fill-opacity="0.750"/><rect x="718" y="188" width="5" height="1" fill="#e6e6e6" fill-opacity="0.250"/><rect x="718" y="189" width="5" height="1" fill="#e6e6e6" fill-opacity="0.750"/><rect x="726" y="188" width="5" height="1" fill="#e6e6e6" fill-opacity="0.250"/><rect x="726" y="189" width="5" height="1" fill="#e6e6e6" fill-opacity="0.750"/><rect x="734" y="188" width="5" height="1" fill="#e6e6e6" fill-opacity="0.250"/><rect x="734" y="189" width="5" height="1" fill="#e6e6e6" fill-opacity="0.750"/><rect x="742" y="188" width="5" height="1" fill="#e6e6e6" fill-opacity="0.250"/><rect x="742" y="189" width="5" height="1" fill="#e6e6e6" fill-opacity="0.750"/><rect x="750" y="188" width="1" height="1" fill="#e6e6e6" fill-opacity="0.250"/><rect x="750" y="189" width="1" height="1" fill="#e6e6e6" fill-opacity="0.750"/><rect x="70" y="144" width="5" height="1" fill="#e6e6e6" fill-opacity="0.625"/><rect x="70" y="145" width="5" height="1" fill="#e6e6e6" fill-opacity="0.375"/><rect x="78" y="144" width="5" height="1" fill="#e6e6e6" fill-opacity="0.625"/><rect x="78" y="145" width="5" height="1" fill="#e6e6e6" fill-opacity="0.375"/><rect x="86" y="144" width="5" height="1" fill="#e6e6e6" fill-opacity="0.625"/><rect x="86" y="145" width="5" height="1" fill="#e6e6e6" fill-opacity="0.375"/><rect x="94" y="144" width="5" height="1" fill="#e6e6e6" fill-opacity="0.625"/><rect x="94" y="145" width="5" height="1" fill="#e6e6e6" fill-opacity="0.375"/><rect x="102" y="144" width="5" height="1" fill="#e6e6e6" fill-opacity="0.625"/><rect x="102" y="145" width="5" height="1" fill="#e6e6e6" fill-opacity="0.375"/><rect x="110" y="144" width="5" height="1" fill="#e6e6e6" fill-opacity="0.625"/><rect x="110" y="145" width="5" height="1" fill="#e6e6e6" fill-opacity="0.375"/><rect x="118" y="144" width="5" height="1" fill="#e6e6e6" fill-opacity="0.625"/><rect x="118" y="145" width="5" height="1" fill="#e6e6e6" fill-opacity="0.375"/><rect x="126" y="144" width="5" height="1" fill="#e6e6e6" fill-opacity="0.625"/><rect x="126" y="145" width="5" height="1" fill="#e6e6e6" fill-opacity="0.375"/><rect x="134" y="144" width="5" height="1" fill="#e6e6e6" fill-opacity="0.625"/><rect x="134" y="145" width="5" height="1" fill="#e6e6e6" fill-opacity="0.375"/><rect x="142" y="144" width="5" height="1" fill="#e6e6e6" fill-opacity="0.625"/><rect x="142" y="145" width="5" height="1" fill="#e6e6e6" fill-opacity="0.375"/><rect x="150" y="144" width="5" height="1" fill="#e6e6e6" fill-opacity="0.625"/><rect x="150" y="145" width="5" height="1" fill="#e6e6e6" fill-opacity="0.375"/><rect x="158" y="144" width="5" height="1" fill="#e6e6e6" fill-opacity="0.625"/><rect x="158" y="145" width="5" height="1" fill="#e6e6e6" fill-opacity="0.375"/><rect x="166" y="144" width="5" height="1" fill="#e6e6e6" fill-opacity="0.625"/><rect x="166" y="145" width="5" height="1" fill="#e6e6e6" fill-opacity="0.375"/><rect x="174" y="144" width="5" height="1" fill="#e6e6e6" fill-opacity="0.625"/><rect x="174" y="145" width="5" height="1" fill="#e6e6e6" fill-opacity="0.375"/><rect x="182" y="144" width="5" height="1" fill="#e6e6e6" fill-opacity="0.625"/><rect x="182" y="145" width="5" height="1" fill="#e6e6e6" fill-opacity="0.375"/><rect x="190" y="144" width="5" height="1" fill="#e6e6e6" fill-opacity="0.625"/><rect x="190" y="145" width="5" height="1" fill="#e6e6e6" fill-opacity="0.375"/><rect x="198" y="144" width="5" height="1" fill="#e6e6e6" fill-opacity="0.625"/><rect x="198" y="145" width="5" height="1" fill="#e6e6e6" fill-opacity="0.375"/><rect x="206" y="144" width="5" height="1" fill="#e6e6e6" fill-opacity="0.625"/><rect x="206" y="145" width="5" height="1" fill="#e6e6e6" fill-opacity="0.375"/><rect x="214" y="144" width="5" height="1" fill="#e6e6e6" fill-opacity="0.625"/><rect x="214" y="145" width="5" height="1" fill="#e6e6e6" fill-opacity="0.375"/><rect x="222" y="144" width="5" height="1" fill="#e6e6e6" fill-opacity="0.625"/><rect x="222" y="145" width="5" height="1" fill="#e6e6e6" fill-opacity="0.375"/><rect x="230" y="144" width="5" height="1" fill="#e6e6e6" fill-opacity="0.625"/><rect x="230" y="145" width="5" height="1" fill="#e6e6e6" fill-opacity="0.375"/><rect x="238" y="144" width="5" height="1" fill="#e6e6e6" fill-opacity="0.625"/><rect x="238" y="145" width="5" height="1" fill="#e6e6e6" fill-opacity="0.375"/><rect x="246" y="144" width="5" height="1" fill="#e6e6e6" fill-opacity="0.625"/><rect x="246" y="145" width="5" height="1" fill="#e6e6e6" fill-opacity="0.375"/><rect x="254" y="144" width="5" height="1" fill="#e6e6e6" fill-opacity="0.625"/><rect x="254" y="145" width="5" height="1" fill="#e6e6e6" fill-opacity="0.375"/><rect x="262" y="144" width="5" height="1" fill="#e6e6e6" fill-opacity="0.625"/><rect x="262" y="145" width="5" height="1" fill="#e6e6e6" fill-opacity="0.375"/><rect x="270" y="144" width="5" height="1" fill="#e6e6e6" fill-opacity="0.625"/><rect x="270" y="145" width="5" height="1" fill="#e6e6e6" fill-opacity="0.375"/><rect x="278" y="144" width="5" height="1" fill="#e6e6e6" fill-opacity="0.625"/><rect x="278" y="145" width="5" height="1" fill="#e6e6e6" fill-opacity="0.375"/><rect x="286" y="144" width="5" height="1" fill="#e6e6e6" fill-opacity="0.625"/><rect x="286" y="145" width="5" height="1" fill="#e6e6e6" fill-opacity="0.375"/><rect x="294" y="144" width="5" height="1" fill="#e6e6e6" fill-opacity="0.625"/><rect x="294" y="145" width="5" height="1" fill="#e6e6e6" fill-opacity="0.375"/><rect x="302" y="144" width="5" height="1" fill="#e6e6e6" fill-opacity="0.625"/><rect x="302" y="145" width="5" height="1" fill="#e6e6e6" fill-opacity="0.375"/><rect x="310" y="144" width="5" height="1" fill="#e6e6e6" fill-opacity="0.625"/><rect x="310" y="145" width="5" height="1" fill="#e6e6e6" fill-opacity="0.375"/><rect x="318" y="144" width="5" height="1" fill="#e6e6e6" fill-opacity="0.625"/><rect x="318" y="145" width="5" height="1" fill="#e6e6e6" fill-opacity="0.375"/><rect x="326" y="144" width="5" height="1" fill="#e6e6e6" fill-opacity="0.625"/><rect x="326" y="145" width="5" height="1" fill="#e6e6e6" fill-opacity="0.375"/><rect x="334" y="144" width="5" height="1" fill="#e6e6e6" fill-opacity="0.625"/><rect x="334" y="145" width="5" height="1" fill="#e6e6e6" fill-opacity="0.375"/><rect x="342" y="144" width="5" height="1" fill="#e6e6e6" fill-opacity="0.625"/><rect x="342" y="145" width="5" height="1" fill="#e6e6e6" fill-opacity="0.375"/><rect x="350" y="144" width="5" height="1" fill="#e6e6e6" fill-opacity="0.625"/><rect x="350" y="145" width="5" height="1" fill="#e6e6e6" fill-opacity="0.375"/><rect x="358" y="144" width="5" height="1" fill="#e6e6e6" fill-opacity="0.625"/><rect x="358" y="145" width="5" height="1" fill="#e6e6e6" fill-opacity="0.375"/><rect x="366" y="144" width="5" height="1" fill="#e6e6e6" fill-opacity="0.625"/><rect x="366" y="145" width="5" height="1" fill="#e6e6e6" fill-opacity="0.375"/><rect x="374" y="144" width="5" height="1" fill="#e6e6e6" fill-opacity="0.625"/><rect x="374" y="145" width="5" height="1" fill="#e6e6e6" fill-opacity="0.375"/><rect x="382" y="144" width="5" height="1" fill="#e6e6e6" fill-opacity="0.625"/><rect x="382" y="145" width="5" height="1" fill="#e6e6e6" fill-opacity="0.375"/><rect x="390" y="144" width="5" height="1" fill="#e6e6e6" fill-opacity="0.625"/><rect x="390" y="145" width="5" height="1" fill="#e6e6e6" fill-opacity="0.375"/><rect x="398" y="144" width="5" height="1" fill="#e6e6e6" fill-opacity="0.625"/><rect x="398" y="145" width="5" height="1" fill="#e6e6e6" fill-opacity="0.375"/><rect x="406" y="144" width="5" height="1" fill="#e6e6e6" fill-opacity="0.625"/><rect x="406" y="145" width="5" height="1" fill="#e6e6e6" fill-opacity="0.375"/><rect x="414" y="144" width="5" height="1" fill="#e6e6e6" fill-opacity="0.625"/><rect x="414" y="145" width="5" height="1" fill="#e6e6e6" fill-opacity="0.375"/><rect x="422" y="144" width="5" height="1" fill="#e6e6e6" fill-opacity="0.625"/><rect x="422" y="145" width="5" height="1" fill="#e6e6e6" fill-opacity="0.375"/><rect x="430" y="144" width="5" height="1" fill="#e6e6e6" fill-opacity="0.625"/><rect x="430" y="145" width="5" height="1" fill="#e6e6e6" fill-opacity="0.375"/><rect x="438" y="144" width="5" height="1" fill="#e6e6e6" fill-opacity="0.625"/><rect x="438" y="145" width="5" height="1" fill="#e6e6e6" fill-opacity="0.375"/><rect x="446" y="144" width="5" height="1" fill="#e6e6e6" fill-opacity="0.625"/><rect x="446" y="145" width="5" height="1" fill="#e6e6e6" fill-opacity="0.375"/><rect x="454" y="144" width="5" height="1" fill="#e6e6e6" fill-opacity="0.625"/><rect x="454" y="145" width="5" height="1" fill="#e6e6e6" fill-opacity="0.375"/><rect x="462" y="144" width="5" height="1" fill="#e6e6e6" fill-opacity="0.625"/><rect x="462" y="145" width="5" height="1" fill="#e6e6e6" fill-opacity="0.375"/><rect x="470" y="144" width="5" height="1" fill="#e6e6e6" fill-opacity="0.625"/><rect x="470" y="145" width="5" height="1" fill="#e6e6e6" fill-opacity="0.375"/><rect x="478" y="144" width="5" height="1" fill="#e6e6e6" fill-opacity="0.625"/><rect x="478" y="145" width="5" height="1" fill="#e6e6e6" fill-opacity="0.375"/><rect x="486" y="144" width="5" height="1" fill="#e6e6e6" fill-opacity="0.625"/><rect x="486" y="145" width="5" height="1" fill="#e6e6e6" fill-opacity="0.375"/><rect x="494" y="144" width="5" height="1" fill="#e6e6e6" fill-opacity="0.625"/><rect x="494" y="145" width="5" height="1" fill="#e6e6e6" fill-opacity="0.375"/><rect x="502" y="144" width="5" height="1" fill="#e6e6e6" fill-opacity="0.625"/><rect x="502" y="145" width="5" height="1" fill="#e6e6e6" fill-opacity="0.375"/><rect x="510" y="144" width="5" height="1" fill="#e6e6e6" fill-opacity="0.625"/><rect x="510" y="145" width="5" height="1" fill="#e6e6e6" fill-opacity="0.375"/><rect x="518" y="144" width="5" height="1" fill="#e6e6e6" fill-opacity="0.625"/><rect x="518" y="145" width="5" height="1" fill="#e6e6e6" fill-opacity="0.375"/><rect x="526" y="144" width="5" height="1" fill="#e6e6e6" fill-opacity="0.625"/><rect x="526" y="145" width="5" height="1" fill="#e6e6e6" fill-opacity="0.375"/><rect x="534" y="144" width="5" height="1" fill="#e6e6e6" fill-opacity="0.625"/><rect x="534" y="145" width="5" height="1" fill="#e6e6e6" fill-opacity="0.375"/><rect x="542" y="144" width="5" height="1" fill="#e6e6e6" fill-opacity="0.625"/><rect x="542" y="145" width="5" height="1" fill="#e6e6e6" fill-opacity="0.375"/><rect x="550" y="144" width="5" height="1" fill="#e6e6e6" fill-opacity="0.625"/><rect x="550" y="145" width="5" height="1" fill="#e6e6e6" fill-opacity="0.375"/><rect x="558" y="144" width="5" height="1" fill="#e6e6e6" fill-opacity="0.625"/><rect x="558" y="145" width="5" height="1" fill="#e6e6e6" fill-opacity="0.375"/><rect x="566" y="144" width="5" height="1" fill="#e6e6e6" fill-opacity="0.625"/><rect x="566" y="145" width="5" height="1" fill="#e6e6e6" fill-opacity="0.375"/><rect x="574" y="144" width="5" height="1" fill="#e6e6e6" fill-opacity="0.625"/><rect x="574" y="145" width="5" height="1" fill="#e6e6e6" fill-opacity="0.375"/><rect x="582" y="144" width="5" height="1" fill="#e6e6e6" fill-opacity="0.625"/><rect x="582" y="145" width="5" height="1" fill="#e6e6e6" fill-opacity="0.375"/><rect x="590" y="144" width="5" height="1" fill="#e6e6e6" fill-opacity="0.625"/><rect x="590" y="145" width="5" height="1" fill="#e6e6e6" fill-opacity="0.375"/><rect x="598" y="144" width="5" height="1" fill="#e6e6e6" fill-opacity="0.625"/><rect x="598" y="145" width="5" height="1" fill="#e6e6e6" fill-opacity="0.375"/><rect x="606" y="144" width="5" height="1" fill="#e6e6e6" fill-opacity="0.625"/><rect x="606" y="145" width="5" height="1" fill="#e6e6e6" fill-opacity="0.375"/><rect x="614" y="144" width="5" height="1" fill="#e6e6e6" fill-opacity="0.625"/><rect x="614" y="145" width="5" height="1" fill="#e6e6e6" fill-opacity="0.375"/><rect x="622" y="144" width="5" height="1" fill="#e6e6e6" fill-opacity="0.625"/><rect x="622" y="145" width="5" height="1" fill="#e6e6e6" fill-opacity="0.375"/><rect x="630" y="144" width="5" height="1" fill="#e6e6e6" fill-opacity="0.625"/><rect x="630" y="145" width="5" height="1" fill="#e6e6e6" fill-opacity="0.375"/><rect x="638" y="144" width="5" height="1" fill="#e6e6e6" fill-opacity="0.625"/><rect x="638" y="145" width="5" height="1" fill="#e6e6e6" fill-opacity="0.375"/><rect x="646" y="144" width="5" height="1" fill="#e6e6e6" fill-opacity="0.625"/><rect x="646" y="145" width="5" height="1" fill="#e6e6e6" fill-opacity="0.375"/><rect x="654" y="144" width="5" height="1" fill="#e6e6e6" fill-opacity="0.625"/><rect x="654" y="145" width="5" height="1" fill="#e6e6e6" fill-opacity="0.375"/><rect x="662" y="144" width="5" height="1" fill="#e6e6e6" fill-opacity="0.625"/><rect x="662" y="145" width="5" height="1" fill="#e6e6e6" fill-opacity="0.375"/><rect x="670" y="144" width="5" height="1" fill="#e6e6e6" fill-opacity="0.625"/><rect x="670" y="145" width="5" height="1" fill="#e6e6e6" fill-opacity="0.375"/><rect x="678" y="144" width="5" height="1" fill="#e6e6e6" fill-opacity="0.625"/><rect x="678" y="145" width="5" height="1" fill="#e6e6e6" fill-opacity="0.375"/><rect x="686" y="144" width="5" height="1" fill="#e6e6e6" fill-opacity="0.625"/><rect x="686" y="145" width="5" height="1" fill="#e6e6e6" fill-opacity="0.375"/><rect x="694" y="144" width="5" height="1" fill="#e6e6e6" fill-opacity="0.625"/><rect x="694" y="145" width="5" height="1" fill="#e6e6e6" fill-opacity="0.375"/><rect x="702" y="144" width="5" height="1" fill="#e6e6e6" fill-opacity="0.625"/><rect x="702" y="145" width="5" height="1" fill="#e6e6e6" fill-opacity="0.375"/><rect x="710" y="144" width="5" height="1" fill="#e6e6e6" fill-opacity="0.625"/><rect x="710" y="145" width="5" height="1" fill="#e6e6e6" fill-opacity="0.375"/><rect x="718" y="144" width="5" height="1" fill="#e6e6e6" fill-opacity="0.625"/><rect x="718" y="145" width="5" height="1" fill="#e6e6e6" fill-opacity="0.375"/><rect x="726" y="144" width="5" height="1" fill="#e6e6e6" fill-opacity="0.625"/><rect x="726" y="145" width="5" height="1" fill="#e6e6e6" fill-opacity="0.375"/><rect x="734" y="144" width="5" height="1" fill="#e6e6e6" fill-opacity="0.625"/><rect x="734" y="145" width="5" height="1" fill="#e6e6e6" fill-opacity="0.375"/><rect x="742" y="144" width="5" height="1" fill="#e6e6e6" fill-opacity="0.625"/><rect x="742" y="145" width="5" height="1" fill="#e6e6e6" fill-opacity="0.375"/><rect x="750" y="144" width="1" height="1" fill="#e6e6e6" fill-opacity="0.625"/><rect x="750" y="145" width="1" height="1" fill="#e6e6e6" fill-opacity="0.375"/><rect x="206" y="100" width="1" height="5" fill="#e6e6e6"/><rect x="206" y="108" width="1" height="5" fill="#e6e6e6"/><rect x="206" y="116" width="1" height="5" fill="#e6e6e6"/><rect x="206" y="124" width="1" height="5" fill="#e6e6e6"/><rect x="206" y="132" width="1" height="5" fill="#e6e6e6"/><rect x="206" y="140" width="1" height="5" fill="#e6e6e6"/><rect x="206" y="148" width="1" height="5" fill="#e6e6e6"/><rect x="206" y="156" width="1" height="5" fill="#e6e6e6"/><rect x="206" y="164" width="1" height="5" fill="#e6e6e6"/><rect x="206" y="172" width="1" height="5" fill="#e6e6e6"/><rect x="206" y="180" width="1" height="5" fill="#e6e6e6"/><rect x="206" y="188" width="1" height="5" fill="#e6e6e6"/><rect x="206" y="196" width="1" height="5" fill="#e6e6e6"/><rect x="206" y="204" width="1" height="5" fill="#e6e6e6"/><rect x="206" y="212" width="1" height="5" fill="#e6e6e6"/><rect x="206" y="220" width="1" height="5" fill="#e6e6e6"/><rect x="206" y="228" width="1" height="5" fill="#e6e6e6"/><rect x="206" y="236" width="1" height="5" fill="#e6e6e6"/><rect x="206" y="244" width="1" height="5" fill="#e6e6e6"/><rect x="206" y="252" width="1" height="5" fill="#e6e6e6"/><rect x="206" y="260" width="1" height="5" fill="#e6e6e6"/><rect x="206" y="268" width="1" height="5" fill="#e6e6e6"/><rect x="206" y="276" width="1" height="5" fill="#e6e6e6"/><rect x="206" y="284" width="1" height="5" fill="#e6e6e6"/><rect x="206" y="292" width="1" height="5" fill="#e6e6e6"/><rect x="206" y="300" width="1" height="5" fill="#e6e6e6"/><rect x="206" y="308" width="1" height="5" fill="#e6e6e6"/><rect x="206" y="316" width="1" height="5" fill="#e6e6e6"/><rect x="206" y="324" width="1" height="5" fill="#e6e6e6"/><rect x="206" y="332" width="1" height="5" fill="#e6e6e6"/><rect x="206" y="340" width="1" height="5" fill="#e6e6e6"/><rect x="206" y="348" width="1" height="5" fill="#e6e6e6"/><rect x="206" y="356" width="1" height="5" fill="#e6e6e6"/><rect x="206" y="364" width="1" height="5" fill="#e6e6e6"/><rect x="206" y="372" width="1" height="5" fill="#e6e6e6"/><rect x="206" y="380" width="1" height="5" fill="#e6e6e6"/><rect x="206" y="388" width="1" height="5" fill="#e6e6e6"/><rect x="206" y="396" width="1" height="5" fill="#e6e6e6"/><rect x="206" y="404" width="1" height="5" fill="#e6e6e6"/><rect x="206" y="412" width="1" height="5" fill="#e6e6e6"/><rect x="206" y="420" width="1" height="5" fill="#e6e6e6"/><rect x="206" y="428" width="1" height="5" fill="#e6e6e6"/><rect x="206" y="436" width="1" height="5" fill="#e6e6e6"/><rect x="206" y="444" width="1" height="5" fill="#e6e6e6"/><rect x="206" y="452" width="1" height="4" fill="#e6e6e6"/><rect x="342" y="100" width="1" height="5" fill="#e6e6e6"/><rect x="342" y="108" width="1" height="5" fill="#e6e6e6"/><rect x="342" y="116" width="1" height="5" fill="#e6e6e6"/><rect x="342" y="124" width="1" height="5" fill="#e6e6e6"/><rect x="342" y="132" width="1" height="5" fill="#e6e6e6"/><rect x="342" y="140" width="1" height="5" fill="#e6e6e6"/><rect x="342" y="148" width="1" height="5" fill="#e6e6e6"/><rect x="342" y="156" width="1" height="5" fill="#e6e6e6"/><rect x="342" y="164" width="1" height="5" fill="#e6e6e6"/><rect x="342" y="172" width="1" height="5" fill="#e6e6e6"/><rect x="342" y="180" width="1" height="5" fill="#e6e6e6"/><rect x="342" y="188" width="1" height="5" fill="#e6e6e6"/><rect x="342" y="196" width="1" height="5" fill="#e6e6e6"/><rect x="342" y="204" width="1" height="5" fill="#e6e6e6"/><rect x="342" y="212" width="1" height="5" fill="#e6e6e6"/><rect x="342" y="220" width="1" height="5" fill="#e6e6e6"/><rect x="342" y="228" width="1" height="5" fill="#e6e6e6"/><rect x="342" y="236" width="1" height="5" fill="#e6e6e6"/><rect x="342" y="244" width="1" height="5" fill="#e6e6e6"/><rect x="342" y="252" width="1" height="5" fill="#e6e6e6"/><rect x="342" y="260" width="1" height="5" fill="#e6e6e6"/><rect x="342" y="268" width="1" height="5" fill="#e6e6e6"/><rect x="342" y="276" width="1" height="5" fill="#e6e6e6"/><rect x="342" y="284" width="1" height="5" fill="#e6e6e6"/><rect x="342" y="292" width="1" height="5" fill="#e6e6e6"/><rect x="342" y="300" width="1" height="5" fill="#e6e6e6"/><rect x="342" y="308" width="1" height="5" fill="#e6e6e6"/><rect x="342" y="316" width="1" height="5" fill="#e6e6e6"/><rect x="342" y="324" width="1" height="5" fill="#e6e6e6"/><rect x="342" y="332" width="1" height="5" fill="#e6e6e6"/><rect x="342" y="340" width="1" height="5" fill="#e6e6e6"/><rect x="342" y="348" width="1" height="5" fill="#e6e6e6"/><rect x="342" y="356" width="1" height="5" fill="#e6e6e6"/><rect x="342" y="364" width="1" height="5" fill="#e6e6e6"/><rect x="342" y="372" width="1" height="5" fill="#e6e6e6"/><rect x="342" y="380" width="1" height="5" fill="#e6e6e6"/><rect x="342" y="388" width="1" height="5" fill="#e6e6e6"/><rect x="342" y="396" width="1" height="5" fill="#e6e6e6"/><rect x="342" y="404" width="1" height="5" fill="#e6e6e6"/><rect x="342" y="412" width="1" height="5" fill="#e6e6e6"/><rect x="342" y="420" width="1" height="5" fill="#e6e6e6"/><rect x="342" y="428" width="1" height="5" fill="#e6e6e6"/><rect x="342" y="436" width="1" height="5" fill="#e6e6e6"/><rect x="342" y="444" width="1" height="5" fill="#e6e6e6"/><rect x="342" y="452" width="1" height="4" fill="#e6e6e6"/><rect x="478" y="100" width="1" height="5" fill="#e6e6e6"/><rect x="478" y="108" width="1" height="5" fill="#e6e6e6"/><rect x="478" y="116" width="1" height="5" fill="#e6e6e6"/><rect x="478" y="124" width="1" height="5" fill="#e6e6e6"/><rect x="478" y="132" width="1" height="5" fill="#e6e6e6"/><rect x="478" y="140" width="1" height="5" fill="#e6e6e6"/><rect x="478" y="148" width="1" height="5" fill="#e6e6e6"/><rect x="478" y="156" width="1" height="5" fill="#e6e6e6"/><rect x="478" y="164" width="1" height="5" fill="#e6e6e6"/><rect x="478" y="172" width="1" height="5" fill="#e6e6e6"/><rect x="478" y="180" width="1" height="5" fill="#e6e6e6"/><rect x="478" y="188" width="1" height="5" fill="#e6e6e6"/><rect x="478" y="196" width="1" height="5" fill="#e6e6e6"/><rect x="478" y="204" width="1" height="5" fill="#e6e6e6"/><rect x="478" y="212" width="1" height="5" fill="#e6e6e6"/><rect x="478" y="220" width="1" height="5" fill="#e6e6e6"/><rect x="478" y="228" width="1" height="5" fill="#e6e6e6"/><rect x="478" y="236" width="1" height="5" fill="#e6e6e6"/><rect x="478" y="244" width="1" height="5" fill="#e6e6e6"/><rect x="478" y="252" width="1" height="5" fill="#e6e6e6"/><rect x="478" y="260" width="1" height="5" fill="#e6e6e6"/><rect x="478" y="268" width="1" height="5" fill="#e6e6e6"/><rect x="478" y="276" width="1" height="5" fill="#e6e6e6"/><rect x="478" y="284" width="1" height="5" fill="#e6e6e6"/><rect x="478" y="292" width="1" height="5" fill="#e6e6e6"/><rect x="478" y="300" width="1" height="5" fill="#e6e6e6"/><rect x="478" y="308" width="1" height="5" fill="#e6e6e6"/><rect x="478" y="316" width="1" height="5" fill="#e6e6e6"/><rect x="478" y="324" width="1" height="5" fill="#e6e6e6"/><rect x="478" y="332" width="1" height="5" fill="#e6e6e6"/><rect x="478" y="340" width="1" height="5" fill="#e6e6e6"/><rect x="478" y="348" width="1" height="5" fill="#e6e6e6"/><rect x="478" y="356" width="1" height="5" fill="#e6e6e6"/><rect x="478" y="364" width="1" height="5" fill="#e6e6e6"/><rect x="478" y="372" width="1" height="5" fill="#e6e6e6"/><rect x="478" y="380" width="1" height="5" fill="#e6e6e6"/><rect x="478" y="388" width="1" height="5" fill="#e6e6e6"/><rect x="478" y="396" width="1" height="5" fill="#e6e6e6"/><rect x="478" y="404" width="1" height="5" fill="#e6e6e6"/><rect x="478" y="412" width="1" height="5" fill="#e6e6e6"/><rect x="478" y="420" width="1" height="5" fill="#e6e6e6"/><rect x="478" y="428" width="1" height="5" fill="#e6e6e6"/><rect x="478" y="436" width="1" height="5" fill="#e6e6e6"/><rect x="478" y="444" width="1" height="5" fill="#e6e6e6"/><rect x="478" y="452" width="1" height="4" fill="#e6e6e6"/><rect x="614" y="100" width="1" height="5" fill="#e6e6e6"/><rect x="614" y="108" width="1" height="5" fill="#e6e6e6"/><rect x="614" y="116" width="1" height="5" fill="#e6e6e6"/><rect x="614" y="124" width="1" height="5" fill="#e6e6e6"/><rect x="614" y="132" width="1" height="5" fill="#e6e6e6"/><rect x="614" y="140" width="1" height="5" fill="#e6e6e6"/><rect x="614" y="148" width="1" height="5" fill="#e6e6e6"/><rect x="614" y="156" width="1" height="5" fill="#e6e6e6"/><rect x="614" y="164" width="1" height="5" fill="#e6e6e6"/><rect x="614" y="172" width="1" height="5" fill="#e6e6e6"/><rect x="614" y="180" width="1" height="5" fill="#e6e6e6"/><rect x="614" y="188" width="1" height="5" fill="#e6e6e6"/><rect x="614" y="196" width="1" height="5" fill="#e6e6e6"/><rect x="614" y="204" width="1" height="5" fill="#e6e6e6"/><rect x="614" y="212" width="1" height="5" fill="#e6e6e6"/><rect x="614" y="220" width="1" height="5" fill="#e6e6e6"/><rect x="614" y="228" width="1" height="5" fill="#e6e6e6"/><rect x="614" y="236" width="1" height="5" fill="#e6e6e6"/><rect x="614" y="244" width="1" height="5" fill="#e6e6e6"/><rect x="614" y="252" width="1" height="5" fill="#e6e6e6"/><rect x="614" y="260" width="1" height="5" fill="#e6e6e6"/><rect x="614" y="268" width="1" height="5" fill="#e6e6e6"/><rect x="614" y="276" width="1" height="5" fill="#e6e6e6"/><rect x="614" y="284" width="1" height="5" fill="#e6e6e6"/><rect x="614" y="292" width="1" height="5" fill="#e6e6e6"/><rect x="614" y="300" width="1" height="5" fill="#e6e6e6"/><rect x="614" y="308" width="1" height="5" fill="#e6e6e6"/><rect x="614" y="316" width="1" height="5" fill="#e6e6e6"/><rect x="614" y="324" width="1" height="5" fill="#e6e6e6"/><rect x="614" y="332" width="1" height="5" fill="#e6e6e6"/><rect x="614" y="340" width="1" height="5" fill="#e6e6e6"/><rect x="614" y="348" width="1" height="5" fill="#e6e6e6"/><rect x="614" y="356" width="1" height="5" fill="#e6e6e6"/><rect x="614" y="364" width="1" height="5" fill="#e6e6e6"/><rect x="614" y="372" width="1" height="5" fill="#e6e6e6"/><rect x="614" y="380" width="1" height="5" fill="#e6e6e6"/><rect x="614" y="388" width="1" height="5" fill="#e6e6e6"/><rect x="614" y="396" width="1" height="5" fill="#e6e6e6"/><rect x="614" y="404" width="1" height="5" fill="#e6e6e6"/><rect x="614" y="412" width="1" height="5" fill="#e6e6e6"/><rect x="614" y="420" width="1" height="5" fill="#e6e6e6"/><rect x="614" y="428" width="1" height="5" fill="#e6e6e6"/><rect x="614" y="436" width="1" height="5" fill="#e6e6e6"/><rect x="614" y="444" width="1" height="5" fill="#e6e6e6"/><rect x="614" y="452" width="1" height="4" fill="#e6e6e6"/><rect x="70" y="100" width="1" height="356" fill="#969696"/><rect x="70" y="455" width="681" height="1" fill="#969696"/><rect x="65" y="455" width="6" height="1" fill="#969696"/><rect x="65" y="410" width="6" height="1" fill="#969696" fill-opacity="0.375"/><rect x="65" y="411" width="6" height="1" fill="#969696" fill-opacity="0.625"/><rect x="65" y="366" width="6" height="1" fill="#969696" fill-opacity="0.750"/><rect x="65" y="367" width="6" height="1" fill="#969696" fill-opacity="0.250"/><rect x="65" y="321" width="6" height="1" fill="#969696" fill-opacity="0.125"/><rect x="65" y="322" width="6" height="1" fill="#969696" fill-opacity="0.875"/><rect x="65" y="277" width="6" height="1" fill="#969696" fill-opacity="0.500"/><rect x="65" y="278" width="6" height="1" fill="#969696" fill-opacity="0.500"/><rect x="65" y="233" width="6" height="1" fill="#969696" fill-opacity="0.875"/><rect x="65" y="234" width="6" height="1" fill="#969696" fill-opacity="0.125"/><rect x="65" y="188" width="6" height="1" fill="#969696" fill-opacity="0.250"/><rect x="65" y="189" width="6" height="1" fill="#969696" fill-opacity="0.750"/><rect x="65" y="144" width="6" height="1" fill="#969696" fill-opacity="0.625"/><rect x="65" y="145" width="6" height="1" fill="#969696" fill-opacity="0.375"/><rect x="65" y="100" width="6" height="1" fill="#969696"/><rect x="70" y="455" width="1" height="6" fill="#969696"/><rect x="206" y="455" width="1" height="6" fill="#969696"/><rect x="342" y="455" width="1" height="6" fill="#969696"/><rect x="478" y="455" width="1" height="6" fill="#969696"/><rect x="614" y="455" width="1" height="6" fill="#969696"/><rect x="750" y="455" width="1" height="6" fill="#969696"/></g>
<polyline points="70.50,325.62 84.10,328.49 97.70,331.18 111.30,333.53 124.90,335.35 138.50,336.48 152.10,336.74 165.70,335.96 179.30,333.96 192.90,330.57 206.50,325.62 220.10,319.02 233.70,311.03 247.30,302.00 260.90,292.28 274.50,282.22 288.10,272.17 301.70,262.48 315.30,253.49 328.90,245.56 342.50,239.04 356.10,234.19 369.70,230.96 383.30,229.22 396.90,228.85 410.50,229.69 424.10,231.64 437.70,234.54 451.30,238.27 464.90,242.70 478.50,247.70 492.10,253.10 505.70,258.64 519.30,264.04 532.90,269.01 546.50,273.27 560.10,276.51 573.70,278.46 587.30,278.83 600.90,277.33 614.50,273.67 628.10,267.65 641.70,259.44 655.30,249.26 668.90,237.37 682.50,224.02 696.10,209.44 709.70,193.89 723.30,177.60 736.90,160.82 750.50,143.79" fill="none" stroke="rgb(24,178,124)" stroke-width="1"/>
<polyline points="70.50,412.21 84.10,415.07 97.70,417.77 111.30,420.11 124.90,421.94 138.50,423.07 152.10,423.33 165.70,422.55 179.30,420.55 192.90,417.16 206.50,412.21 220.10,405.61 233.70,397.61 247.30,388.59 260.90,378.87 274.50,368.81 288.10,358.75 301.70,349.06 315.30,340.08 328.90,332.15 342.50,325.62 356.10,320.77 369.70,317.55 383.30,315.81 396.90,315.43 410.50,316.28 424.10,318.22 437.70,321.12 451.30,324.86 464.90,329.29 478.50,334.28 492.10,339.68 505.70,345.23 519.30,350.63 532.90,355.60 546.50,359.85 560.10,363.10 573.70,365.05 587.30,365.42 600.90,363.92 614.50,360.26 628.10,354.24 641.70,346.02 655.30,335.85 668.90,323.96 682.50,310.60 696.10,296.03 709.70,280.47 723.30,264.18 736.90,247.40 750.50,230.38" fill="none" stroke="rgb(224,100,46)" stroke-width="1"/>
<polygon points="72.5,326.6219512195122 81.0,319.7219512195122 81.0,332.5219512195122" fill="#c4c4c4"/><rect x="81.0" y="319.72" width="30" height="12.80" fill="#c4c4c4"/><polygon points="71.5,325.6219512195122 80.0,318.7219512195122 80.0,331.5219512195122" fill="#d2d2d2"/><rect x="80.0" y="318.72" width="30" height="12.80" fill="#d2d2d2"/><text x="82.0" y="330.1" class="lb">315</text>
<polygon points="208.5,326.6219512195122 217.0,319.7219512195122 217.0,332.5219512195122" fill="#c4c4c4"/><rect x="217.0" y="319.72" width="30" height="12.80" fill="#c4c4c4"/><polygon points="207.5,325.6219512195122 216.0,318.7219512195122 216.0,331.5219512195122" fill="#d2d2d2"/><rect x="216.0" y="318.72" width="30" height="12.80" fill="#d2d2d2"/><text x="218.0" y="330.1" class="lb">315</text>
<polygon points="344.5,240.03658536585365 353.0,233.13658536585365 353.0,245.93658536585366" fill="#c4c4c4"/><rect x="353.0" y="233.14" width="30" height="12.80" fill="#c4c4c4"/><polygon points="343.5,239.03658536585365 352.0,232.13658536585365 352.0,244.93658536585366" fill="#d2d2d2"/><rect x="352.0" y="232.14" width="30" height="12.80" fill="#d2d2d2"/><text x="354.0" y="243.5" class="lb">325</text>
<polygon points="480.5,248.6951219512195 489.0,241.7951219512195 489.0,254.5951219512195" fill="#c4c4c4"/><rect x="489.0" y="241.80" width="30" height="12.80" fill="#c4c4c4"/><polygon points="479.5,247.6951219512195 488.0,240.7951219512195 488.0,253.5951219512195" fill="#d2d2d2"/><rect x="488.0" y="240.80" width="30" height="12.80" fill="#d2d2d2"/><text x="490.0" y="252.2" class="lb">324</text>
<polygon points="616.5,274.6707317073171 625.0,267.7707317073171 625.0,280.57073170731707" fill="#c4c4c4"/><rect x="625.0" y="267.77" width="28" height="12.80" fill="#c4c4c4"/><polygon points="615.5,273.6707317073171 624.0,266.7707317073171 624.0,279.57073170731707" fill="#d2d2d2"/><rect x="624.0" y="266.77" width="28" height="12.80" fill="#d2d2d2"/><text x="626.0" y="278.2" class="lb">321</text>
<polygon points="752.5,144.7926829268293 761.0,137.89268292682928 761.0,150.6926829268293" fill="#c4c4c4"/><rect x="761.0" y="137.89" width="29" height="12.80" fill="#c4c4c4"/><polygon points="751.5,143.7926829268293 760.0,136.89268292682928 760.0,149.6926829268293" fill="#d2d2d2"/><rect x="760.0" y="136.89" width="29" height="12.80" fill="#d2d2d2"/><text x="762.0" y="148.3" class="lb">336</text>
<polygon points="72.5,413.2073170731707 81.0,406.30731707317074 81.0,419.1073170731707" fill="#c4c4c4"/><rect x="81.0" y="406.31" width="30" height="12.80" fill="#c4c4c4"/><polygon points="71.5,412.2073170731707 80.0,405.30731707317074 80.0,418.1073170731707" fill="#d2d2d2"/><rect x="80.0" y="405.31" width="30" height="12.80" fill="#d2d2d2"/><text x="82.0" y="416.7" class="lb">305</text>
<polygon points="208.5,413.2073170731707 217.0,406.30731707317074 217.0,419.1073170731707" fill="#c4c4c4"/><rect x="217.0" y="406.31" width="30" height="12.80" fill="#c4c4c4"/><polygon points="207.5,412.2073170731707 216.0,405.30731707317074 216.0,418.1073170731707" fill="#d2d2d2"/><rect x="216.0" y="405.31" width="30" height="12.80" fill="#d2d2d2"/><text x="218.0" y="416.7" class="lb">305</text>
<polygon points="344.5,326.6219512195122 353.0,319.7219512195122 353.0,332.5219512195122" fill="#c4c4c4"/><rect x="353.0" y="319.72" width="30" height="12.80" fill="#c4c4c4"/><polygon points="343.5,325.6219512195122 352.0,318.7219512195122 352.0,331.5219512195122" fill="#d2d2d2"/><rect x="352.0" y="318.72" width="30" height="12.80" fill="#d2d2d2"/><text x="354.0" y="330.1" class="lb">315</text>
<polygon points="480.5,335.280487804878 489.0,328.38048780487804 489.0,341.180487804878" fill="#c4c4c4"/><rect x="489.0" y="328.38" width="30" height="12.80" fill="#c4c4c4"/><polygon points="479.5,334.280487804878 488.0,327.38048780487804 488.0,340.180487804878" fill="#d2d2d2"/><rect x="488.0" y="327.38" width="30" height="12.80" fill="#d2d2d2"/><text x="490.0" y="338.8" class="lb">314</text>
<polygon points="616.5,361.2560975609756 625.0,354.3560975609756 625.0,367.1560975609756" fill="#c4c4c4"/><rect x="625.0" y="354.36" width="28" height="12.80" fill="#c4c4c4"/><polygon points="615.5,360.2560975609756 624.0,353.3560975609756 624.0,366.1560975609756" fill="#d2d2d2"/><rect x="624.0" y="353.36" width="28" height="12.80" fill="#d2d2d2"/><text x="626.0" y="364.8" class="lb">311</text>
<polygon points="752.5,231.3780487804878 761.0,224.4780487804878 761.0,237.2780487804878" fill="#c4c4c4"/><rect x="761.0" y="224.48" width="30" height="12.80" fill="#c4c4c4"/><polygon points="751.5,230.3780487804878 760.0,223.4780487804878 760.0,236.2780487804878" fill="#d2d2d2"/><rect x="760.0" y="223.48" width="30" height="12.80" fill="#d2d2d2"/><text x="762.0" y="234.9" class="lb">326</text>
<text x="60.75" y="460.0" class="sc yl" text-anchor="end">300</text>
<text x="60.75" y="415.6" class="sc yl" text-anchor="end">305.12</text>
<text x="60.75" y="371.2" class="sc yl" text-anchor="end">310.25</text>
<text x="60.75" y="326.9" class="sc yl" text-anchor="end">315.37</text>
<text x="60.75" y="282.5" class="sc yl" text-anchor="end">320.5</text>
<text x="60.75" y="238.1" class="sc yl" text-anchor="end">325.62</text>
<text x="60.75" y="193.8" class="sc yl" text-anchor="end">330.75</text>
<text x="60.75" y="149.4" class="sc yl" text-anchor="end">335.87</text>
<text x="60.75" y="105.0" class="sc yl" text-anchor="end">341</text>
<text x="70.0" y="473" class="sc xl" text-anchor="middle">2017<tspan dx="1.5" style="font-size:14px">年</tspan></text>
<text x="206.0" y="473" class="sc xl" text-anchor="middle">2018<tspan dx="1.5" style="font-size:14px">年</tspan></text>
<text x="342.0" y="473" class="sc xl" text-anchor="middle">2019<tspan dx="1.5" style="font-size:14px">年</tspan></text>
<text x="478.0" y="473" class="sc xl" text-anchor="middle">2020<tspan dx="1.5" style="font-size:14px">年</tspan></text>
<text x="614.0" y="473" class="sc xl" text-anchor="middle">2021<tspan dx="1.5" style="font-size:14px">年</tspan></text>
<text x="750.0" y="473" class="sc xl" text-anchor="middle">2022<tspan dx="1.5" style="font-size:14px">年</tspan></text>
<rect x="691" y="46" width="85" height="40" rx="5" fill="#e1e1e1"/>
<rect x="690" y="45" width="85" height="40" rx="5" fill="#ffffff"/>
<rect x="700" y="54" width="5" height="5" fill="rgb(24,178,124)"/>
<rect x="700" y="71" width="5" height="5" fill="rgb(224,100,46)"/>
<text x="712" y="60" class="lg">A<tspan dx="1.2">区总分</tspan></text>
<text x="712" y="77" class="lg">B<tspan dx="1.2">区总分</tspan></text>
<text x="140" y="44" class="tt">黑龙江东方学院文物与博物馆历年考研分数线</text>
</svg>
</body></html>
